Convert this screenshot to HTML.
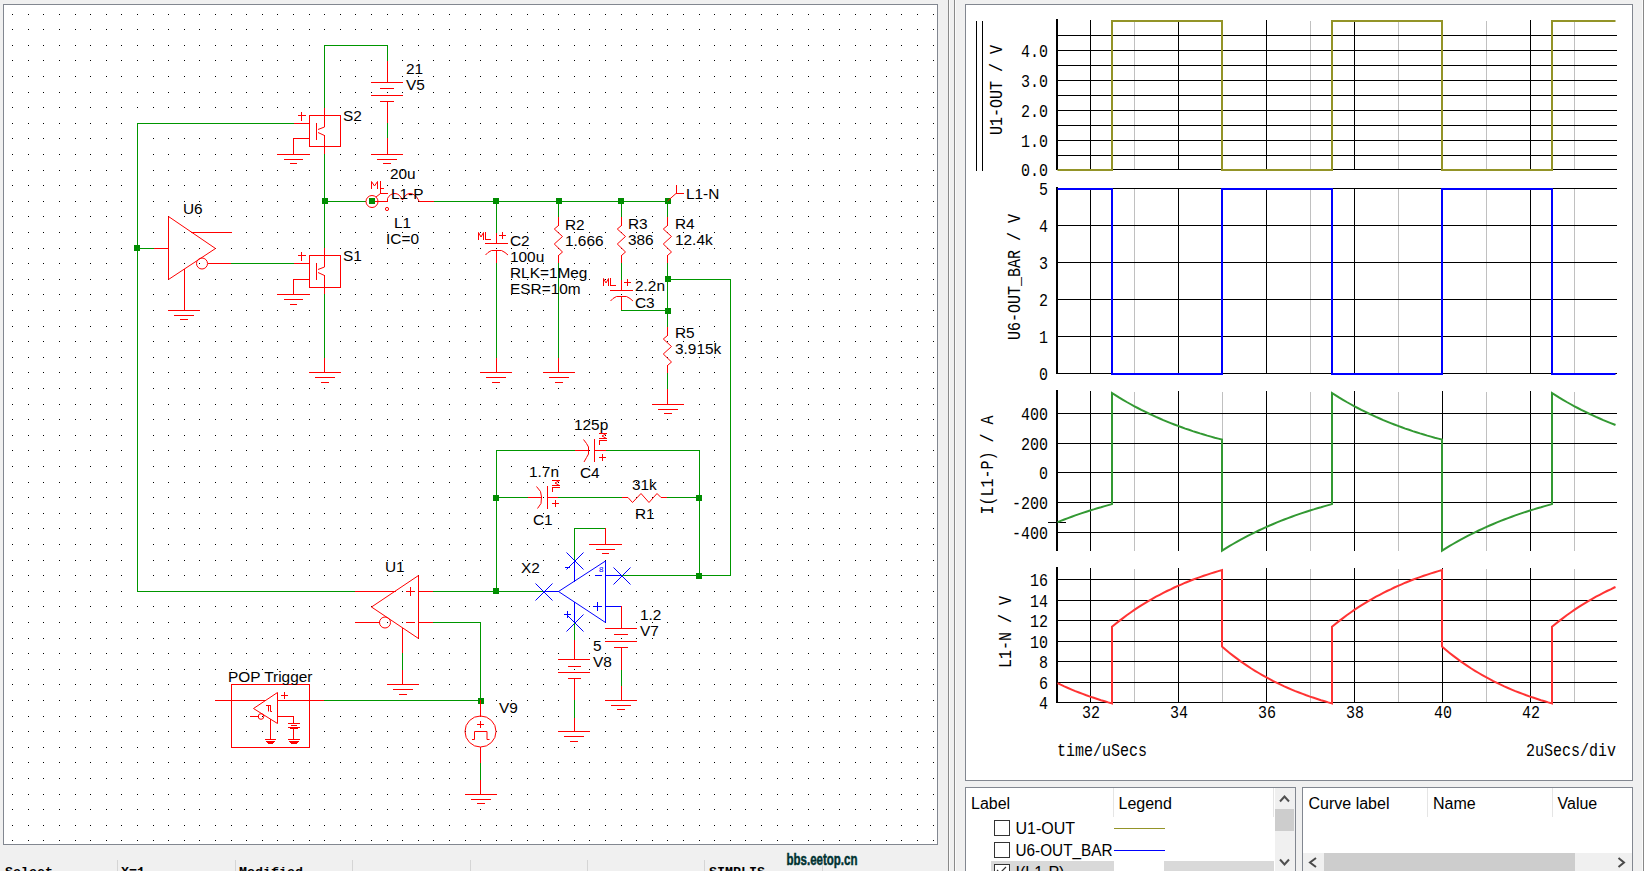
<!DOCTYPE html><html><head><meta charset="utf-8"><style>
html,body{margin:0;padding:0;background:#f0f0f0;width:1644px;height:871px;overflow:hidden}
svg{display:block}
text{white-space:pre}
</style></head><body>
<svg width="1644" height="871" viewBox="0 0 1644 871">
<rect x="0" y="0" width="1644" height="871" fill="#f0f0f0"/>
<rect x="3" y="4" width="935" height="841" fill="#828790"/>
<rect x="4" y="5" width="933" height="839" fill="#ffffff"/>
<path fill="#000" d="M12 14h1v1h-1zM12 29h1v1h-1zM12 45h1v1h-1zM12 60h1v1h-1zM12 76h1v1h-1zM12 92h1v1h-1zM12 107h1v1h-1zM12 123h1v1h-1zM12 138h1v1h-1zM12 154h1v1h-1zM12 170h1v1h-1zM12 185h1v1h-1zM12 201h1v1h-1zM12 216h1v1h-1zM12 232h1v1h-1zM12 248h1v1h-1zM12 263h1v1h-1zM12 279h1v1h-1zM12 294h1v1h-1zM12 310h1v1h-1zM12 326h1v1h-1zM12 341h1v1h-1zM12 357h1v1h-1zM12 372h1v1h-1zM12 388h1v1h-1zM12 404h1v1h-1zM12 419h1v1h-1zM12 435h1v1h-1zM12 450h1v1h-1zM12 466h1v1h-1zM12 482h1v1h-1zM12 497h1v1h-1zM12 513h1v1h-1zM12 528h1v1h-1zM12 544h1v1h-1zM12 560h1v1h-1zM12 575h1v1h-1zM12 591h1v1h-1zM12 606h1v1h-1zM12 622h1v1h-1zM12 638h1v1h-1zM12 653h1v1h-1zM12 669h1v1h-1zM12 684h1v1h-1zM12 700h1v1h-1zM12 716h1v1h-1zM12 731h1v1h-1zM12 747h1v1h-1zM12 762h1v1h-1zM12 778h1v1h-1zM12 794h1v1h-1zM12 809h1v1h-1zM12 825h1v1h-1zM12 840h1v1h-1zM28 14h1v1h-1zM28 29h1v1h-1zM28 45h1v1h-1zM28 60h1v1h-1zM28 76h1v1h-1zM28 92h1v1h-1zM28 107h1v1h-1zM28 123h1v1h-1zM28 138h1v1h-1zM28 154h1v1h-1zM28 170h1v1h-1zM28 185h1v1h-1zM28 201h1v1h-1zM28 216h1v1h-1zM28 232h1v1h-1zM28 248h1v1h-1zM28 263h1v1h-1zM28 279h1v1h-1zM28 294h1v1h-1zM28 310h1v1h-1zM28 326h1v1h-1zM28 341h1v1h-1zM28 357h1v1h-1zM28 372h1v1h-1zM28 388h1v1h-1zM28 404h1v1h-1zM28 419h1v1h-1zM28 435h1v1h-1zM28 450h1v1h-1zM28 466h1v1h-1zM28 482h1v1h-1zM28 497h1v1h-1zM28 513h1v1h-1zM28 528h1v1h-1zM28 544h1v1h-1zM28 560h1v1h-1zM28 575h1v1h-1zM28 591h1v1h-1zM28 606h1v1h-1zM28 622h1v1h-1zM28 638h1v1h-1zM28 653h1v1h-1zM28 669h1v1h-1zM28 684h1v1h-1zM28 700h1v1h-1zM28 716h1v1h-1zM28 731h1v1h-1zM28 747h1v1h-1zM28 762h1v1h-1zM28 778h1v1h-1zM28 794h1v1h-1zM28 809h1v1h-1zM28 825h1v1h-1zM28 840h1v1h-1zM43 14h1v1h-1zM43 29h1v1h-1zM43 45h1v1h-1zM43 60h1v1h-1zM43 76h1v1h-1zM43 92h1v1h-1zM43 107h1v1h-1zM43 123h1v1h-1zM43 138h1v1h-1zM43 154h1v1h-1zM43 170h1v1h-1zM43 185h1v1h-1zM43 201h1v1h-1zM43 216h1v1h-1zM43 232h1v1h-1zM43 248h1v1h-1zM43 263h1v1h-1zM43 279h1v1h-1zM43 294h1v1h-1zM43 310h1v1h-1zM43 326h1v1h-1zM43 341h1v1h-1zM43 357h1v1h-1zM43 372h1v1h-1zM43 388h1v1h-1zM43 404h1v1h-1zM43 419h1v1h-1zM43 435h1v1h-1zM43 450h1v1h-1zM43 466h1v1h-1zM43 482h1v1h-1zM43 497h1v1h-1zM43 513h1v1h-1zM43 528h1v1h-1zM43 544h1v1h-1zM43 560h1v1h-1zM43 575h1v1h-1zM43 591h1v1h-1zM43 606h1v1h-1zM43 622h1v1h-1zM43 638h1v1h-1zM43 653h1v1h-1zM43 669h1v1h-1zM43 684h1v1h-1zM43 700h1v1h-1zM43 716h1v1h-1zM43 731h1v1h-1zM43 747h1v1h-1zM43 762h1v1h-1zM43 778h1v1h-1zM43 794h1v1h-1zM43 809h1v1h-1zM43 825h1v1h-1zM43 840h1v1h-1zM59 14h1v1h-1zM59 29h1v1h-1zM59 45h1v1h-1zM59 60h1v1h-1zM59 76h1v1h-1zM59 92h1v1h-1zM59 107h1v1h-1zM59 123h1v1h-1zM59 138h1v1h-1zM59 154h1v1h-1zM59 170h1v1h-1zM59 185h1v1h-1zM59 201h1v1h-1zM59 216h1v1h-1zM59 232h1v1h-1zM59 248h1v1h-1zM59 263h1v1h-1zM59 279h1v1h-1zM59 294h1v1h-1zM59 310h1v1h-1zM59 326h1v1h-1zM59 341h1v1h-1zM59 357h1v1h-1zM59 372h1v1h-1zM59 388h1v1h-1zM59 404h1v1h-1zM59 419h1v1h-1zM59 435h1v1h-1zM59 450h1v1h-1zM59 466h1v1h-1zM59 482h1v1h-1zM59 497h1v1h-1zM59 513h1v1h-1zM59 528h1v1h-1zM59 544h1v1h-1zM59 560h1v1h-1zM59 575h1v1h-1zM59 591h1v1h-1zM59 606h1v1h-1zM59 622h1v1h-1zM59 638h1v1h-1zM59 653h1v1h-1zM59 669h1v1h-1zM59 684h1v1h-1zM59 700h1v1h-1zM59 716h1v1h-1zM59 731h1v1h-1zM59 747h1v1h-1zM59 762h1v1h-1zM59 778h1v1h-1zM59 794h1v1h-1zM59 809h1v1h-1zM59 825h1v1h-1zM59 840h1v1h-1zM75 14h1v1h-1zM75 29h1v1h-1zM75 45h1v1h-1zM75 60h1v1h-1zM75 76h1v1h-1zM75 92h1v1h-1zM75 107h1v1h-1zM75 123h1v1h-1zM75 138h1v1h-1zM75 154h1v1h-1zM75 170h1v1h-1zM75 185h1v1h-1zM75 201h1v1h-1zM75 216h1v1h-1zM75 232h1v1h-1zM75 248h1v1h-1zM75 263h1v1h-1zM75 279h1v1h-1zM75 294h1v1h-1zM75 310h1v1h-1zM75 326h1v1h-1zM75 341h1v1h-1zM75 357h1v1h-1zM75 372h1v1h-1zM75 388h1v1h-1zM75 404h1v1h-1zM75 419h1v1h-1zM75 435h1v1h-1zM75 450h1v1h-1zM75 466h1v1h-1zM75 482h1v1h-1zM75 497h1v1h-1zM75 513h1v1h-1zM75 528h1v1h-1zM75 544h1v1h-1zM75 560h1v1h-1zM75 575h1v1h-1zM75 591h1v1h-1zM75 606h1v1h-1zM75 622h1v1h-1zM75 638h1v1h-1zM75 653h1v1h-1zM75 669h1v1h-1zM75 684h1v1h-1zM75 700h1v1h-1zM75 716h1v1h-1zM75 731h1v1h-1zM75 747h1v1h-1zM75 762h1v1h-1zM75 778h1v1h-1zM75 794h1v1h-1zM75 809h1v1h-1zM75 825h1v1h-1zM75 840h1v1h-1zM90 14h1v1h-1zM90 29h1v1h-1zM90 45h1v1h-1zM90 60h1v1h-1zM90 76h1v1h-1zM90 92h1v1h-1zM90 107h1v1h-1zM90 123h1v1h-1zM90 138h1v1h-1zM90 154h1v1h-1zM90 170h1v1h-1zM90 185h1v1h-1zM90 201h1v1h-1zM90 216h1v1h-1zM90 232h1v1h-1zM90 248h1v1h-1zM90 263h1v1h-1zM90 279h1v1h-1zM90 294h1v1h-1zM90 310h1v1h-1zM90 326h1v1h-1zM90 341h1v1h-1zM90 357h1v1h-1zM90 372h1v1h-1zM90 388h1v1h-1zM90 404h1v1h-1zM90 419h1v1h-1zM90 435h1v1h-1zM90 450h1v1h-1zM90 466h1v1h-1zM90 482h1v1h-1zM90 497h1v1h-1zM90 513h1v1h-1zM90 528h1v1h-1zM90 544h1v1h-1zM90 560h1v1h-1zM90 575h1v1h-1zM90 591h1v1h-1zM90 606h1v1h-1zM90 622h1v1h-1zM90 638h1v1h-1zM90 653h1v1h-1zM90 669h1v1h-1zM90 684h1v1h-1zM90 700h1v1h-1zM90 716h1v1h-1zM90 731h1v1h-1zM90 747h1v1h-1zM90 762h1v1h-1zM90 778h1v1h-1zM90 794h1v1h-1zM90 809h1v1h-1zM90 825h1v1h-1zM90 840h1v1h-1zM106 14h1v1h-1zM106 29h1v1h-1zM106 45h1v1h-1zM106 60h1v1h-1zM106 76h1v1h-1zM106 92h1v1h-1zM106 107h1v1h-1zM106 123h1v1h-1zM106 138h1v1h-1zM106 154h1v1h-1zM106 170h1v1h-1zM106 185h1v1h-1zM106 201h1v1h-1zM106 216h1v1h-1zM106 232h1v1h-1zM106 248h1v1h-1zM106 263h1v1h-1zM106 279h1v1h-1zM106 294h1v1h-1zM106 310h1v1h-1zM106 326h1v1h-1zM106 341h1v1h-1zM106 357h1v1h-1zM106 372h1v1h-1zM106 388h1v1h-1zM106 404h1v1h-1zM106 419h1v1h-1zM106 435h1v1h-1zM106 450h1v1h-1zM106 466h1v1h-1zM106 482h1v1h-1zM106 497h1v1h-1zM106 513h1v1h-1zM106 528h1v1h-1zM106 544h1v1h-1zM106 560h1v1h-1zM106 575h1v1h-1zM106 591h1v1h-1zM106 606h1v1h-1zM106 622h1v1h-1zM106 638h1v1h-1zM106 653h1v1h-1zM106 669h1v1h-1zM106 684h1v1h-1zM106 700h1v1h-1zM106 716h1v1h-1zM106 731h1v1h-1zM106 747h1v1h-1zM106 762h1v1h-1zM106 778h1v1h-1zM106 794h1v1h-1zM106 809h1v1h-1zM106 825h1v1h-1zM106 840h1v1h-1zM121 14h1v1h-1zM121 29h1v1h-1zM121 45h1v1h-1zM121 60h1v1h-1zM121 76h1v1h-1zM121 92h1v1h-1zM121 107h1v1h-1zM121 123h1v1h-1zM121 138h1v1h-1zM121 154h1v1h-1zM121 170h1v1h-1zM121 185h1v1h-1zM121 201h1v1h-1zM121 216h1v1h-1zM121 232h1v1h-1zM121 248h1v1h-1zM121 263h1v1h-1zM121 279h1v1h-1zM121 294h1v1h-1zM121 310h1v1h-1zM121 326h1v1h-1zM121 341h1v1h-1zM121 357h1v1h-1zM121 372h1v1h-1zM121 388h1v1h-1zM121 404h1v1h-1zM121 419h1v1h-1zM121 435h1v1h-1zM121 450h1v1h-1zM121 466h1v1h-1zM121 482h1v1h-1zM121 497h1v1h-1zM121 513h1v1h-1zM121 528h1v1h-1zM121 544h1v1h-1zM121 560h1v1h-1zM121 575h1v1h-1zM121 591h1v1h-1zM121 606h1v1h-1zM121 622h1v1h-1zM121 638h1v1h-1zM121 653h1v1h-1zM121 669h1v1h-1zM121 684h1v1h-1zM121 700h1v1h-1zM121 716h1v1h-1zM121 731h1v1h-1zM121 747h1v1h-1zM121 762h1v1h-1zM121 778h1v1h-1zM121 794h1v1h-1zM121 809h1v1h-1zM121 825h1v1h-1zM121 840h1v1h-1zM137 14h1v1h-1zM137 29h1v1h-1zM137 45h1v1h-1zM137 60h1v1h-1zM137 76h1v1h-1zM137 92h1v1h-1zM137 107h1v1h-1zM137 123h1v1h-1zM137 138h1v1h-1zM137 154h1v1h-1zM137 170h1v1h-1zM137 185h1v1h-1zM137 201h1v1h-1zM137 216h1v1h-1zM137 232h1v1h-1zM137 248h1v1h-1zM137 263h1v1h-1zM137 279h1v1h-1zM137 294h1v1h-1zM137 310h1v1h-1zM137 326h1v1h-1zM137 341h1v1h-1zM137 357h1v1h-1zM137 372h1v1h-1zM137 388h1v1h-1zM137 404h1v1h-1zM137 419h1v1h-1zM137 435h1v1h-1zM137 450h1v1h-1zM137 466h1v1h-1zM137 482h1v1h-1zM137 497h1v1h-1zM137 513h1v1h-1zM137 528h1v1h-1zM137 544h1v1h-1zM137 560h1v1h-1zM137 575h1v1h-1zM137 591h1v1h-1zM137 606h1v1h-1zM137 622h1v1h-1zM137 638h1v1h-1zM137 653h1v1h-1zM137 669h1v1h-1zM137 684h1v1h-1zM137 700h1v1h-1zM137 716h1v1h-1zM137 731h1v1h-1zM137 747h1v1h-1zM137 762h1v1h-1zM137 778h1v1h-1zM137 794h1v1h-1zM137 809h1v1h-1zM137 825h1v1h-1zM137 840h1v1h-1zM153 14h1v1h-1zM153 29h1v1h-1zM153 45h1v1h-1zM153 60h1v1h-1zM153 76h1v1h-1zM153 92h1v1h-1zM153 107h1v1h-1zM153 123h1v1h-1zM153 138h1v1h-1zM153 154h1v1h-1zM153 170h1v1h-1zM153 185h1v1h-1zM153 201h1v1h-1zM153 216h1v1h-1zM153 232h1v1h-1zM153 248h1v1h-1zM153 263h1v1h-1zM153 279h1v1h-1zM153 294h1v1h-1zM153 310h1v1h-1zM153 326h1v1h-1zM153 341h1v1h-1zM153 357h1v1h-1zM153 372h1v1h-1zM153 388h1v1h-1zM153 404h1v1h-1zM153 419h1v1h-1zM153 435h1v1h-1zM153 450h1v1h-1zM153 466h1v1h-1zM153 482h1v1h-1zM153 497h1v1h-1zM153 513h1v1h-1zM153 528h1v1h-1zM153 544h1v1h-1zM153 560h1v1h-1zM153 575h1v1h-1zM153 591h1v1h-1zM153 606h1v1h-1zM153 622h1v1h-1zM153 638h1v1h-1zM153 653h1v1h-1zM153 669h1v1h-1zM153 684h1v1h-1zM153 700h1v1h-1zM153 716h1v1h-1zM153 731h1v1h-1zM153 747h1v1h-1zM153 762h1v1h-1zM153 778h1v1h-1zM153 794h1v1h-1zM153 809h1v1h-1zM153 825h1v1h-1zM153 840h1v1h-1zM168 14h1v1h-1zM168 29h1v1h-1zM168 45h1v1h-1zM168 60h1v1h-1zM168 76h1v1h-1zM168 92h1v1h-1zM168 107h1v1h-1zM168 123h1v1h-1zM168 138h1v1h-1zM168 154h1v1h-1zM168 170h1v1h-1zM168 185h1v1h-1zM168 201h1v1h-1zM168 216h1v1h-1zM168 232h1v1h-1zM168 248h1v1h-1zM168 263h1v1h-1zM168 279h1v1h-1zM168 294h1v1h-1zM168 310h1v1h-1zM168 326h1v1h-1zM168 341h1v1h-1zM168 357h1v1h-1zM168 372h1v1h-1zM168 388h1v1h-1zM168 404h1v1h-1zM168 419h1v1h-1zM168 435h1v1h-1zM168 450h1v1h-1zM168 466h1v1h-1zM168 482h1v1h-1zM168 497h1v1h-1zM168 513h1v1h-1zM168 528h1v1h-1zM168 544h1v1h-1zM168 560h1v1h-1zM168 575h1v1h-1zM168 591h1v1h-1zM168 606h1v1h-1zM168 622h1v1h-1zM168 638h1v1h-1zM168 653h1v1h-1zM168 669h1v1h-1zM168 684h1v1h-1zM168 700h1v1h-1zM168 716h1v1h-1zM168 731h1v1h-1zM168 747h1v1h-1zM168 762h1v1h-1zM168 778h1v1h-1zM168 794h1v1h-1zM168 809h1v1h-1zM168 825h1v1h-1zM168 840h1v1h-1zM184 14h1v1h-1zM184 29h1v1h-1zM184 45h1v1h-1zM184 60h1v1h-1zM184 76h1v1h-1zM184 92h1v1h-1zM184 107h1v1h-1zM184 123h1v1h-1zM184 138h1v1h-1zM184 154h1v1h-1zM184 170h1v1h-1zM184 185h1v1h-1zM184 201h1v1h-1zM184 216h1v1h-1zM184 232h1v1h-1zM184 248h1v1h-1zM184 263h1v1h-1zM184 279h1v1h-1zM184 294h1v1h-1zM184 310h1v1h-1zM184 326h1v1h-1zM184 341h1v1h-1zM184 357h1v1h-1zM184 372h1v1h-1zM184 388h1v1h-1zM184 404h1v1h-1zM184 419h1v1h-1zM184 435h1v1h-1zM184 450h1v1h-1zM184 466h1v1h-1zM184 482h1v1h-1zM184 497h1v1h-1zM184 513h1v1h-1zM184 528h1v1h-1zM184 544h1v1h-1zM184 560h1v1h-1zM184 575h1v1h-1zM184 591h1v1h-1zM184 606h1v1h-1zM184 622h1v1h-1zM184 638h1v1h-1zM184 653h1v1h-1zM184 669h1v1h-1zM184 684h1v1h-1zM184 700h1v1h-1zM184 716h1v1h-1zM184 731h1v1h-1zM184 747h1v1h-1zM184 762h1v1h-1zM184 778h1v1h-1zM184 794h1v1h-1zM184 809h1v1h-1zM184 825h1v1h-1zM184 840h1v1h-1zM199 14h1v1h-1zM199 29h1v1h-1zM199 45h1v1h-1zM199 60h1v1h-1zM199 76h1v1h-1zM199 92h1v1h-1zM199 107h1v1h-1zM199 123h1v1h-1zM199 138h1v1h-1zM199 154h1v1h-1zM199 170h1v1h-1zM199 185h1v1h-1zM199 201h1v1h-1zM199 216h1v1h-1zM199 232h1v1h-1zM199 248h1v1h-1zM199 263h1v1h-1zM199 279h1v1h-1zM199 294h1v1h-1zM199 310h1v1h-1zM199 326h1v1h-1zM199 341h1v1h-1zM199 357h1v1h-1zM199 372h1v1h-1zM199 388h1v1h-1zM199 404h1v1h-1zM199 419h1v1h-1zM199 435h1v1h-1zM199 450h1v1h-1zM199 466h1v1h-1zM199 482h1v1h-1zM199 497h1v1h-1zM199 513h1v1h-1zM199 528h1v1h-1zM199 544h1v1h-1zM199 560h1v1h-1zM199 575h1v1h-1zM199 591h1v1h-1zM199 606h1v1h-1zM199 622h1v1h-1zM199 638h1v1h-1zM199 653h1v1h-1zM199 669h1v1h-1zM199 684h1v1h-1zM199 700h1v1h-1zM199 716h1v1h-1zM199 731h1v1h-1zM199 747h1v1h-1zM199 762h1v1h-1zM199 778h1v1h-1zM199 794h1v1h-1zM199 809h1v1h-1zM199 825h1v1h-1zM199 840h1v1h-1zM215 14h1v1h-1zM215 29h1v1h-1zM215 45h1v1h-1zM215 60h1v1h-1zM215 76h1v1h-1zM215 92h1v1h-1zM215 107h1v1h-1zM215 123h1v1h-1zM215 138h1v1h-1zM215 154h1v1h-1zM215 170h1v1h-1zM215 185h1v1h-1zM215 201h1v1h-1zM215 216h1v1h-1zM215 232h1v1h-1zM215 248h1v1h-1zM215 263h1v1h-1zM215 279h1v1h-1zM215 294h1v1h-1zM215 310h1v1h-1zM215 326h1v1h-1zM215 341h1v1h-1zM215 357h1v1h-1zM215 372h1v1h-1zM215 388h1v1h-1zM215 404h1v1h-1zM215 419h1v1h-1zM215 435h1v1h-1zM215 450h1v1h-1zM215 466h1v1h-1zM215 482h1v1h-1zM215 497h1v1h-1zM215 513h1v1h-1zM215 528h1v1h-1zM215 544h1v1h-1zM215 560h1v1h-1zM215 575h1v1h-1zM215 591h1v1h-1zM215 606h1v1h-1zM215 622h1v1h-1zM215 638h1v1h-1zM215 653h1v1h-1zM215 669h1v1h-1zM215 684h1v1h-1zM215 700h1v1h-1zM215 716h1v1h-1zM215 731h1v1h-1zM215 747h1v1h-1zM215 762h1v1h-1zM215 778h1v1h-1zM215 794h1v1h-1zM215 809h1v1h-1zM215 825h1v1h-1zM215 840h1v1h-1zM231 14h1v1h-1zM231 29h1v1h-1zM231 45h1v1h-1zM231 60h1v1h-1zM231 76h1v1h-1zM231 92h1v1h-1zM231 107h1v1h-1zM231 123h1v1h-1zM231 138h1v1h-1zM231 154h1v1h-1zM231 170h1v1h-1zM231 185h1v1h-1zM231 201h1v1h-1zM231 216h1v1h-1zM231 232h1v1h-1zM231 248h1v1h-1zM231 263h1v1h-1zM231 279h1v1h-1zM231 294h1v1h-1zM231 310h1v1h-1zM231 326h1v1h-1zM231 341h1v1h-1zM231 357h1v1h-1zM231 372h1v1h-1zM231 388h1v1h-1zM231 404h1v1h-1zM231 419h1v1h-1zM231 435h1v1h-1zM231 450h1v1h-1zM231 466h1v1h-1zM231 482h1v1h-1zM231 497h1v1h-1zM231 513h1v1h-1zM231 528h1v1h-1zM231 544h1v1h-1zM231 560h1v1h-1zM231 575h1v1h-1zM231 591h1v1h-1zM231 606h1v1h-1zM231 622h1v1h-1zM231 638h1v1h-1zM231 653h1v1h-1zM231 669h1v1h-1zM231 684h1v1h-1zM231 700h1v1h-1zM231 716h1v1h-1zM231 731h1v1h-1zM231 747h1v1h-1zM231 762h1v1h-1zM231 778h1v1h-1zM231 794h1v1h-1zM231 809h1v1h-1zM231 825h1v1h-1zM231 840h1v1h-1zM246 14h1v1h-1zM246 29h1v1h-1zM246 45h1v1h-1zM246 60h1v1h-1zM246 76h1v1h-1zM246 92h1v1h-1zM246 107h1v1h-1zM246 123h1v1h-1zM246 138h1v1h-1zM246 154h1v1h-1zM246 170h1v1h-1zM246 185h1v1h-1zM246 201h1v1h-1zM246 216h1v1h-1zM246 232h1v1h-1zM246 248h1v1h-1zM246 263h1v1h-1zM246 279h1v1h-1zM246 294h1v1h-1zM246 310h1v1h-1zM246 326h1v1h-1zM246 341h1v1h-1zM246 357h1v1h-1zM246 372h1v1h-1zM246 388h1v1h-1zM246 404h1v1h-1zM246 419h1v1h-1zM246 435h1v1h-1zM246 450h1v1h-1zM246 466h1v1h-1zM246 482h1v1h-1zM246 497h1v1h-1zM246 513h1v1h-1zM246 528h1v1h-1zM246 544h1v1h-1zM246 560h1v1h-1zM246 575h1v1h-1zM246 591h1v1h-1zM246 606h1v1h-1zM246 622h1v1h-1zM246 638h1v1h-1zM246 653h1v1h-1zM246 669h1v1h-1zM246 684h1v1h-1zM246 700h1v1h-1zM246 716h1v1h-1zM246 731h1v1h-1zM246 747h1v1h-1zM246 762h1v1h-1zM246 778h1v1h-1zM246 794h1v1h-1zM246 809h1v1h-1zM246 825h1v1h-1zM246 840h1v1h-1zM262 14h1v1h-1zM262 29h1v1h-1zM262 45h1v1h-1zM262 60h1v1h-1zM262 76h1v1h-1zM262 92h1v1h-1zM262 107h1v1h-1zM262 123h1v1h-1zM262 138h1v1h-1zM262 154h1v1h-1zM262 170h1v1h-1zM262 185h1v1h-1zM262 201h1v1h-1zM262 216h1v1h-1zM262 232h1v1h-1zM262 248h1v1h-1zM262 263h1v1h-1zM262 279h1v1h-1zM262 294h1v1h-1zM262 310h1v1h-1zM262 326h1v1h-1zM262 341h1v1h-1zM262 357h1v1h-1zM262 372h1v1h-1zM262 388h1v1h-1zM262 404h1v1h-1zM262 419h1v1h-1zM262 435h1v1h-1zM262 450h1v1h-1zM262 466h1v1h-1zM262 482h1v1h-1zM262 497h1v1h-1zM262 513h1v1h-1zM262 528h1v1h-1zM262 544h1v1h-1zM262 560h1v1h-1zM262 575h1v1h-1zM262 591h1v1h-1zM262 606h1v1h-1zM262 622h1v1h-1zM262 638h1v1h-1zM262 653h1v1h-1zM262 669h1v1h-1zM262 684h1v1h-1zM262 700h1v1h-1zM262 716h1v1h-1zM262 731h1v1h-1zM262 747h1v1h-1zM262 762h1v1h-1zM262 778h1v1h-1zM262 794h1v1h-1zM262 809h1v1h-1zM262 825h1v1h-1zM262 840h1v1h-1zM277 14h1v1h-1zM277 29h1v1h-1zM277 45h1v1h-1zM277 60h1v1h-1zM277 76h1v1h-1zM277 92h1v1h-1zM277 107h1v1h-1zM277 123h1v1h-1zM277 138h1v1h-1zM277 154h1v1h-1zM277 170h1v1h-1zM277 185h1v1h-1zM277 201h1v1h-1zM277 216h1v1h-1zM277 232h1v1h-1zM277 248h1v1h-1zM277 263h1v1h-1zM277 279h1v1h-1zM277 294h1v1h-1zM277 310h1v1h-1zM277 326h1v1h-1zM277 341h1v1h-1zM277 357h1v1h-1zM277 372h1v1h-1zM277 388h1v1h-1zM277 404h1v1h-1zM277 419h1v1h-1zM277 435h1v1h-1zM277 450h1v1h-1zM277 466h1v1h-1zM277 482h1v1h-1zM277 497h1v1h-1zM277 513h1v1h-1zM277 528h1v1h-1zM277 544h1v1h-1zM277 560h1v1h-1zM277 575h1v1h-1zM277 591h1v1h-1zM277 606h1v1h-1zM277 622h1v1h-1zM277 638h1v1h-1zM277 653h1v1h-1zM277 669h1v1h-1zM277 684h1v1h-1zM277 700h1v1h-1zM277 716h1v1h-1zM277 731h1v1h-1zM277 747h1v1h-1zM277 762h1v1h-1zM277 778h1v1h-1zM277 794h1v1h-1zM277 809h1v1h-1zM277 825h1v1h-1zM277 840h1v1h-1zM293 14h1v1h-1zM293 29h1v1h-1zM293 45h1v1h-1zM293 60h1v1h-1zM293 76h1v1h-1zM293 92h1v1h-1zM293 107h1v1h-1zM293 123h1v1h-1zM293 138h1v1h-1zM293 154h1v1h-1zM293 170h1v1h-1zM293 185h1v1h-1zM293 201h1v1h-1zM293 216h1v1h-1zM293 232h1v1h-1zM293 248h1v1h-1zM293 263h1v1h-1zM293 279h1v1h-1zM293 294h1v1h-1zM293 310h1v1h-1zM293 326h1v1h-1zM293 341h1v1h-1zM293 357h1v1h-1zM293 372h1v1h-1zM293 388h1v1h-1zM293 404h1v1h-1zM293 419h1v1h-1zM293 435h1v1h-1zM293 450h1v1h-1zM293 466h1v1h-1zM293 482h1v1h-1zM293 497h1v1h-1zM293 513h1v1h-1zM293 528h1v1h-1zM293 544h1v1h-1zM293 560h1v1h-1zM293 575h1v1h-1zM293 591h1v1h-1zM293 606h1v1h-1zM293 622h1v1h-1zM293 638h1v1h-1zM293 653h1v1h-1zM293 669h1v1h-1zM293 684h1v1h-1zM293 700h1v1h-1zM293 716h1v1h-1zM293 731h1v1h-1zM293 747h1v1h-1zM293 762h1v1h-1zM293 778h1v1h-1zM293 794h1v1h-1zM293 809h1v1h-1zM293 825h1v1h-1zM293 840h1v1h-1zM309 14h1v1h-1zM309 29h1v1h-1zM309 45h1v1h-1zM309 60h1v1h-1zM309 76h1v1h-1zM309 92h1v1h-1zM309 107h1v1h-1zM309 123h1v1h-1zM309 138h1v1h-1zM309 154h1v1h-1zM309 170h1v1h-1zM309 185h1v1h-1zM309 201h1v1h-1zM309 216h1v1h-1zM309 232h1v1h-1zM309 248h1v1h-1zM309 263h1v1h-1zM309 279h1v1h-1zM309 294h1v1h-1zM309 310h1v1h-1zM309 326h1v1h-1zM309 341h1v1h-1zM309 357h1v1h-1zM309 372h1v1h-1zM309 388h1v1h-1zM309 404h1v1h-1zM309 419h1v1h-1zM309 435h1v1h-1zM309 450h1v1h-1zM309 466h1v1h-1zM309 482h1v1h-1zM309 497h1v1h-1zM309 513h1v1h-1zM309 528h1v1h-1zM309 544h1v1h-1zM309 560h1v1h-1zM309 575h1v1h-1zM309 591h1v1h-1zM309 606h1v1h-1zM309 622h1v1h-1zM309 638h1v1h-1zM309 653h1v1h-1zM309 669h1v1h-1zM309 684h1v1h-1zM309 700h1v1h-1zM309 716h1v1h-1zM309 731h1v1h-1zM309 747h1v1h-1zM309 762h1v1h-1zM309 778h1v1h-1zM309 794h1v1h-1zM309 809h1v1h-1zM309 825h1v1h-1zM309 840h1v1h-1zM324 14h1v1h-1zM324 29h1v1h-1zM324 45h1v1h-1zM324 60h1v1h-1zM324 76h1v1h-1zM324 92h1v1h-1zM324 107h1v1h-1zM324 123h1v1h-1zM324 138h1v1h-1zM324 154h1v1h-1zM324 170h1v1h-1zM324 185h1v1h-1zM324 201h1v1h-1zM324 216h1v1h-1zM324 232h1v1h-1zM324 248h1v1h-1zM324 263h1v1h-1zM324 279h1v1h-1zM324 294h1v1h-1zM324 310h1v1h-1zM324 326h1v1h-1zM324 341h1v1h-1zM324 357h1v1h-1zM324 372h1v1h-1zM324 388h1v1h-1zM324 404h1v1h-1zM324 419h1v1h-1zM324 435h1v1h-1zM324 450h1v1h-1zM324 466h1v1h-1zM324 482h1v1h-1zM324 497h1v1h-1zM324 513h1v1h-1zM324 528h1v1h-1zM324 544h1v1h-1zM324 560h1v1h-1zM324 575h1v1h-1zM324 591h1v1h-1zM324 606h1v1h-1zM324 622h1v1h-1zM324 638h1v1h-1zM324 653h1v1h-1zM324 669h1v1h-1zM324 684h1v1h-1zM324 700h1v1h-1zM324 716h1v1h-1zM324 731h1v1h-1zM324 747h1v1h-1zM324 762h1v1h-1zM324 778h1v1h-1zM324 794h1v1h-1zM324 809h1v1h-1zM324 825h1v1h-1zM324 840h1v1h-1zM340 14h1v1h-1zM340 29h1v1h-1zM340 45h1v1h-1zM340 60h1v1h-1zM340 76h1v1h-1zM340 92h1v1h-1zM340 107h1v1h-1zM340 123h1v1h-1zM340 138h1v1h-1zM340 154h1v1h-1zM340 170h1v1h-1zM340 185h1v1h-1zM340 201h1v1h-1zM340 216h1v1h-1zM340 232h1v1h-1zM340 248h1v1h-1zM340 263h1v1h-1zM340 279h1v1h-1zM340 294h1v1h-1zM340 310h1v1h-1zM340 326h1v1h-1zM340 341h1v1h-1zM340 357h1v1h-1zM340 372h1v1h-1zM340 388h1v1h-1zM340 404h1v1h-1zM340 419h1v1h-1zM340 435h1v1h-1zM340 450h1v1h-1zM340 466h1v1h-1zM340 482h1v1h-1zM340 497h1v1h-1zM340 513h1v1h-1zM340 528h1v1h-1zM340 544h1v1h-1zM340 560h1v1h-1zM340 575h1v1h-1zM340 591h1v1h-1zM340 606h1v1h-1zM340 622h1v1h-1zM340 638h1v1h-1zM340 653h1v1h-1zM340 669h1v1h-1zM340 684h1v1h-1zM340 700h1v1h-1zM340 716h1v1h-1zM340 731h1v1h-1zM340 747h1v1h-1zM340 762h1v1h-1zM340 778h1v1h-1zM340 794h1v1h-1zM340 809h1v1h-1zM340 825h1v1h-1zM340 840h1v1h-1zM355 14h1v1h-1zM355 29h1v1h-1zM355 45h1v1h-1zM355 60h1v1h-1zM355 76h1v1h-1zM355 92h1v1h-1zM355 107h1v1h-1zM355 123h1v1h-1zM355 138h1v1h-1zM355 154h1v1h-1zM355 170h1v1h-1zM355 185h1v1h-1zM355 201h1v1h-1zM355 216h1v1h-1zM355 232h1v1h-1zM355 248h1v1h-1zM355 263h1v1h-1zM355 279h1v1h-1zM355 294h1v1h-1zM355 310h1v1h-1zM355 326h1v1h-1zM355 341h1v1h-1zM355 357h1v1h-1zM355 372h1v1h-1zM355 388h1v1h-1zM355 404h1v1h-1zM355 419h1v1h-1zM355 435h1v1h-1zM355 450h1v1h-1zM355 466h1v1h-1zM355 482h1v1h-1zM355 497h1v1h-1zM355 513h1v1h-1zM355 528h1v1h-1zM355 544h1v1h-1zM355 560h1v1h-1zM355 575h1v1h-1zM355 591h1v1h-1zM355 606h1v1h-1zM355 622h1v1h-1zM355 638h1v1h-1zM355 653h1v1h-1zM355 669h1v1h-1zM355 684h1v1h-1zM355 700h1v1h-1zM355 716h1v1h-1zM355 731h1v1h-1zM355 747h1v1h-1zM355 762h1v1h-1zM355 778h1v1h-1zM355 794h1v1h-1zM355 809h1v1h-1zM355 825h1v1h-1zM355 840h1v1h-1zM371 14h1v1h-1zM371 29h1v1h-1zM371 45h1v1h-1zM371 60h1v1h-1zM371 76h1v1h-1zM371 92h1v1h-1zM371 107h1v1h-1zM371 123h1v1h-1zM371 138h1v1h-1zM371 154h1v1h-1zM371 170h1v1h-1zM371 185h1v1h-1zM371 201h1v1h-1zM371 216h1v1h-1zM371 232h1v1h-1zM371 248h1v1h-1zM371 263h1v1h-1zM371 279h1v1h-1zM371 294h1v1h-1zM371 310h1v1h-1zM371 326h1v1h-1zM371 341h1v1h-1zM371 357h1v1h-1zM371 372h1v1h-1zM371 388h1v1h-1zM371 404h1v1h-1zM371 419h1v1h-1zM371 435h1v1h-1zM371 450h1v1h-1zM371 466h1v1h-1zM371 482h1v1h-1zM371 497h1v1h-1zM371 513h1v1h-1zM371 528h1v1h-1zM371 544h1v1h-1zM371 560h1v1h-1zM371 575h1v1h-1zM371 591h1v1h-1zM371 606h1v1h-1zM371 622h1v1h-1zM371 638h1v1h-1zM371 653h1v1h-1zM371 669h1v1h-1zM371 684h1v1h-1zM371 700h1v1h-1zM371 716h1v1h-1zM371 731h1v1h-1zM371 747h1v1h-1zM371 762h1v1h-1zM371 778h1v1h-1zM371 794h1v1h-1zM371 809h1v1h-1zM371 825h1v1h-1zM371 840h1v1h-1zM387 14h1v1h-1zM387 29h1v1h-1zM387 45h1v1h-1zM387 60h1v1h-1zM387 76h1v1h-1zM387 92h1v1h-1zM387 107h1v1h-1zM387 123h1v1h-1zM387 138h1v1h-1zM387 154h1v1h-1zM387 170h1v1h-1zM387 185h1v1h-1zM387 201h1v1h-1zM387 216h1v1h-1zM387 232h1v1h-1zM387 248h1v1h-1zM387 263h1v1h-1zM387 279h1v1h-1zM387 294h1v1h-1zM387 310h1v1h-1zM387 326h1v1h-1zM387 341h1v1h-1zM387 357h1v1h-1zM387 372h1v1h-1zM387 388h1v1h-1zM387 404h1v1h-1zM387 419h1v1h-1zM387 435h1v1h-1zM387 450h1v1h-1zM387 466h1v1h-1zM387 482h1v1h-1zM387 497h1v1h-1zM387 513h1v1h-1zM387 528h1v1h-1zM387 544h1v1h-1zM387 560h1v1h-1zM387 575h1v1h-1zM387 591h1v1h-1zM387 606h1v1h-1zM387 622h1v1h-1zM387 638h1v1h-1zM387 653h1v1h-1zM387 669h1v1h-1zM387 684h1v1h-1zM387 700h1v1h-1zM387 716h1v1h-1zM387 731h1v1h-1zM387 747h1v1h-1zM387 762h1v1h-1zM387 778h1v1h-1zM387 794h1v1h-1zM387 809h1v1h-1zM387 825h1v1h-1zM387 840h1v1h-1zM402 14h1v1h-1zM402 29h1v1h-1zM402 45h1v1h-1zM402 60h1v1h-1zM402 76h1v1h-1zM402 92h1v1h-1zM402 107h1v1h-1zM402 123h1v1h-1zM402 138h1v1h-1zM402 154h1v1h-1zM402 170h1v1h-1zM402 185h1v1h-1zM402 201h1v1h-1zM402 216h1v1h-1zM402 232h1v1h-1zM402 248h1v1h-1zM402 263h1v1h-1zM402 279h1v1h-1zM402 294h1v1h-1zM402 310h1v1h-1zM402 326h1v1h-1zM402 341h1v1h-1zM402 357h1v1h-1zM402 372h1v1h-1zM402 388h1v1h-1zM402 404h1v1h-1zM402 419h1v1h-1zM402 435h1v1h-1zM402 450h1v1h-1zM402 466h1v1h-1zM402 482h1v1h-1zM402 497h1v1h-1zM402 513h1v1h-1zM402 528h1v1h-1zM402 544h1v1h-1zM402 560h1v1h-1zM402 575h1v1h-1zM402 591h1v1h-1zM402 606h1v1h-1zM402 622h1v1h-1zM402 638h1v1h-1zM402 653h1v1h-1zM402 669h1v1h-1zM402 684h1v1h-1zM402 700h1v1h-1zM402 716h1v1h-1zM402 731h1v1h-1zM402 747h1v1h-1zM402 762h1v1h-1zM402 778h1v1h-1zM402 794h1v1h-1zM402 809h1v1h-1zM402 825h1v1h-1zM402 840h1v1h-1zM418 14h1v1h-1zM418 29h1v1h-1zM418 45h1v1h-1zM418 60h1v1h-1zM418 76h1v1h-1zM418 92h1v1h-1zM418 107h1v1h-1zM418 123h1v1h-1zM418 138h1v1h-1zM418 154h1v1h-1zM418 170h1v1h-1zM418 185h1v1h-1zM418 201h1v1h-1zM418 216h1v1h-1zM418 232h1v1h-1zM418 248h1v1h-1zM418 263h1v1h-1zM418 279h1v1h-1zM418 294h1v1h-1zM418 310h1v1h-1zM418 326h1v1h-1zM418 341h1v1h-1zM418 357h1v1h-1zM418 372h1v1h-1zM418 388h1v1h-1zM418 404h1v1h-1zM418 419h1v1h-1zM418 435h1v1h-1zM418 450h1v1h-1zM418 466h1v1h-1zM418 482h1v1h-1zM418 497h1v1h-1zM418 513h1v1h-1zM418 528h1v1h-1zM418 544h1v1h-1zM418 560h1v1h-1zM418 575h1v1h-1zM418 591h1v1h-1zM418 606h1v1h-1zM418 622h1v1h-1zM418 638h1v1h-1zM418 653h1v1h-1zM418 669h1v1h-1zM418 684h1v1h-1zM418 700h1v1h-1zM418 716h1v1h-1zM418 731h1v1h-1zM418 747h1v1h-1zM418 762h1v1h-1zM418 778h1v1h-1zM418 794h1v1h-1zM418 809h1v1h-1zM418 825h1v1h-1zM418 840h1v1h-1zM433 14h1v1h-1zM433 29h1v1h-1zM433 45h1v1h-1zM433 60h1v1h-1zM433 76h1v1h-1zM433 92h1v1h-1zM433 107h1v1h-1zM433 123h1v1h-1zM433 138h1v1h-1zM433 154h1v1h-1zM433 170h1v1h-1zM433 185h1v1h-1zM433 201h1v1h-1zM433 216h1v1h-1zM433 232h1v1h-1zM433 248h1v1h-1zM433 263h1v1h-1zM433 279h1v1h-1zM433 294h1v1h-1zM433 310h1v1h-1zM433 326h1v1h-1zM433 341h1v1h-1zM433 357h1v1h-1zM433 372h1v1h-1zM433 388h1v1h-1zM433 404h1v1h-1zM433 419h1v1h-1zM433 435h1v1h-1zM433 450h1v1h-1zM433 466h1v1h-1zM433 482h1v1h-1zM433 497h1v1h-1zM433 513h1v1h-1zM433 528h1v1h-1zM433 544h1v1h-1zM433 560h1v1h-1zM433 575h1v1h-1zM433 591h1v1h-1zM433 606h1v1h-1zM433 622h1v1h-1zM433 638h1v1h-1zM433 653h1v1h-1zM433 669h1v1h-1zM433 684h1v1h-1zM433 700h1v1h-1zM433 716h1v1h-1zM433 731h1v1h-1zM433 747h1v1h-1zM433 762h1v1h-1zM433 778h1v1h-1zM433 794h1v1h-1zM433 809h1v1h-1zM433 825h1v1h-1zM433 840h1v1h-1zM449 14h1v1h-1zM449 29h1v1h-1zM449 45h1v1h-1zM449 60h1v1h-1zM449 76h1v1h-1zM449 92h1v1h-1zM449 107h1v1h-1zM449 123h1v1h-1zM449 138h1v1h-1zM449 154h1v1h-1zM449 170h1v1h-1zM449 185h1v1h-1zM449 201h1v1h-1zM449 216h1v1h-1zM449 232h1v1h-1zM449 248h1v1h-1zM449 263h1v1h-1zM449 279h1v1h-1zM449 294h1v1h-1zM449 310h1v1h-1zM449 326h1v1h-1zM449 341h1v1h-1zM449 357h1v1h-1zM449 372h1v1h-1zM449 388h1v1h-1zM449 404h1v1h-1zM449 419h1v1h-1zM449 435h1v1h-1zM449 450h1v1h-1zM449 466h1v1h-1zM449 482h1v1h-1zM449 497h1v1h-1zM449 513h1v1h-1zM449 528h1v1h-1zM449 544h1v1h-1zM449 560h1v1h-1zM449 575h1v1h-1zM449 591h1v1h-1zM449 606h1v1h-1zM449 622h1v1h-1zM449 638h1v1h-1zM449 653h1v1h-1zM449 669h1v1h-1zM449 684h1v1h-1zM449 700h1v1h-1zM449 716h1v1h-1zM449 731h1v1h-1zM449 747h1v1h-1zM449 762h1v1h-1zM449 778h1v1h-1zM449 794h1v1h-1zM449 809h1v1h-1zM449 825h1v1h-1zM449 840h1v1h-1zM465 14h1v1h-1zM465 29h1v1h-1zM465 45h1v1h-1zM465 60h1v1h-1zM465 76h1v1h-1zM465 92h1v1h-1zM465 107h1v1h-1zM465 123h1v1h-1zM465 138h1v1h-1zM465 154h1v1h-1zM465 170h1v1h-1zM465 185h1v1h-1zM465 201h1v1h-1zM465 216h1v1h-1zM465 232h1v1h-1zM465 248h1v1h-1zM465 263h1v1h-1zM465 279h1v1h-1zM465 294h1v1h-1zM465 310h1v1h-1zM465 326h1v1h-1zM465 341h1v1h-1zM465 357h1v1h-1zM465 372h1v1h-1zM465 388h1v1h-1zM465 404h1v1h-1zM465 419h1v1h-1zM465 435h1v1h-1zM465 450h1v1h-1zM465 466h1v1h-1zM465 482h1v1h-1zM465 497h1v1h-1zM465 513h1v1h-1zM465 528h1v1h-1zM465 544h1v1h-1zM465 560h1v1h-1zM465 575h1v1h-1zM465 591h1v1h-1zM465 606h1v1h-1zM465 622h1v1h-1zM465 638h1v1h-1zM465 653h1v1h-1zM465 669h1v1h-1zM465 684h1v1h-1zM465 700h1v1h-1zM465 716h1v1h-1zM465 731h1v1h-1zM465 747h1v1h-1zM465 762h1v1h-1zM465 778h1v1h-1zM465 794h1v1h-1zM465 809h1v1h-1zM465 825h1v1h-1zM465 840h1v1h-1zM480 14h1v1h-1zM480 29h1v1h-1zM480 45h1v1h-1zM480 60h1v1h-1zM480 76h1v1h-1zM480 92h1v1h-1zM480 107h1v1h-1zM480 123h1v1h-1zM480 138h1v1h-1zM480 154h1v1h-1zM480 170h1v1h-1zM480 185h1v1h-1zM480 201h1v1h-1zM480 216h1v1h-1zM480 232h1v1h-1zM480 248h1v1h-1zM480 263h1v1h-1zM480 279h1v1h-1zM480 294h1v1h-1zM480 310h1v1h-1zM480 326h1v1h-1zM480 341h1v1h-1zM480 357h1v1h-1zM480 372h1v1h-1zM480 388h1v1h-1zM480 404h1v1h-1zM480 419h1v1h-1zM480 435h1v1h-1zM480 450h1v1h-1zM480 466h1v1h-1zM480 482h1v1h-1zM480 497h1v1h-1zM480 513h1v1h-1zM480 528h1v1h-1zM480 544h1v1h-1zM480 560h1v1h-1zM480 575h1v1h-1zM480 591h1v1h-1zM480 606h1v1h-1zM480 622h1v1h-1zM480 638h1v1h-1zM480 653h1v1h-1zM480 669h1v1h-1zM480 684h1v1h-1zM480 700h1v1h-1zM480 716h1v1h-1zM480 731h1v1h-1zM480 747h1v1h-1zM480 762h1v1h-1zM480 778h1v1h-1zM480 794h1v1h-1zM480 809h1v1h-1zM480 825h1v1h-1zM480 840h1v1h-1zM496 14h1v1h-1zM496 29h1v1h-1zM496 45h1v1h-1zM496 60h1v1h-1zM496 76h1v1h-1zM496 92h1v1h-1zM496 107h1v1h-1zM496 123h1v1h-1zM496 138h1v1h-1zM496 154h1v1h-1zM496 170h1v1h-1zM496 185h1v1h-1zM496 201h1v1h-1zM496 216h1v1h-1zM496 232h1v1h-1zM496 248h1v1h-1zM496 263h1v1h-1zM496 279h1v1h-1zM496 294h1v1h-1zM496 310h1v1h-1zM496 326h1v1h-1zM496 341h1v1h-1zM496 357h1v1h-1zM496 372h1v1h-1zM496 388h1v1h-1zM496 404h1v1h-1zM496 419h1v1h-1zM496 435h1v1h-1zM496 450h1v1h-1zM496 466h1v1h-1zM496 482h1v1h-1zM496 497h1v1h-1zM496 513h1v1h-1zM496 528h1v1h-1zM496 544h1v1h-1zM496 560h1v1h-1zM496 575h1v1h-1zM496 591h1v1h-1zM496 606h1v1h-1zM496 622h1v1h-1zM496 638h1v1h-1zM496 653h1v1h-1zM496 669h1v1h-1zM496 684h1v1h-1zM496 700h1v1h-1zM496 716h1v1h-1zM496 731h1v1h-1zM496 747h1v1h-1zM496 762h1v1h-1zM496 778h1v1h-1zM496 794h1v1h-1zM496 809h1v1h-1zM496 825h1v1h-1zM496 840h1v1h-1zM511 14h1v1h-1zM511 29h1v1h-1zM511 45h1v1h-1zM511 60h1v1h-1zM511 76h1v1h-1zM511 92h1v1h-1zM511 107h1v1h-1zM511 123h1v1h-1zM511 138h1v1h-1zM511 154h1v1h-1zM511 170h1v1h-1zM511 185h1v1h-1zM511 201h1v1h-1zM511 216h1v1h-1zM511 232h1v1h-1zM511 248h1v1h-1zM511 263h1v1h-1zM511 279h1v1h-1zM511 294h1v1h-1zM511 310h1v1h-1zM511 326h1v1h-1zM511 341h1v1h-1zM511 357h1v1h-1zM511 372h1v1h-1zM511 388h1v1h-1zM511 404h1v1h-1zM511 419h1v1h-1zM511 435h1v1h-1zM511 450h1v1h-1zM511 466h1v1h-1zM511 482h1v1h-1zM511 497h1v1h-1zM511 513h1v1h-1zM511 528h1v1h-1zM511 544h1v1h-1zM511 560h1v1h-1zM511 575h1v1h-1zM511 591h1v1h-1zM511 606h1v1h-1zM511 622h1v1h-1zM511 638h1v1h-1zM511 653h1v1h-1zM511 669h1v1h-1zM511 684h1v1h-1zM511 700h1v1h-1zM511 716h1v1h-1zM511 731h1v1h-1zM511 747h1v1h-1zM511 762h1v1h-1zM511 778h1v1h-1zM511 794h1v1h-1zM511 809h1v1h-1zM511 825h1v1h-1zM511 840h1v1h-1zM527 14h1v1h-1zM527 29h1v1h-1zM527 45h1v1h-1zM527 60h1v1h-1zM527 76h1v1h-1zM527 92h1v1h-1zM527 107h1v1h-1zM527 123h1v1h-1zM527 138h1v1h-1zM527 154h1v1h-1zM527 170h1v1h-1zM527 185h1v1h-1zM527 201h1v1h-1zM527 216h1v1h-1zM527 232h1v1h-1zM527 248h1v1h-1zM527 263h1v1h-1zM527 279h1v1h-1zM527 294h1v1h-1zM527 310h1v1h-1zM527 326h1v1h-1zM527 341h1v1h-1zM527 357h1v1h-1zM527 372h1v1h-1zM527 388h1v1h-1zM527 404h1v1h-1zM527 419h1v1h-1zM527 435h1v1h-1zM527 450h1v1h-1zM527 466h1v1h-1zM527 482h1v1h-1zM527 497h1v1h-1zM527 513h1v1h-1zM527 528h1v1h-1zM527 544h1v1h-1zM527 560h1v1h-1zM527 575h1v1h-1zM527 591h1v1h-1zM527 606h1v1h-1zM527 622h1v1h-1zM527 638h1v1h-1zM527 653h1v1h-1zM527 669h1v1h-1zM527 684h1v1h-1zM527 700h1v1h-1zM527 716h1v1h-1zM527 731h1v1h-1zM527 747h1v1h-1zM527 762h1v1h-1zM527 778h1v1h-1zM527 794h1v1h-1zM527 809h1v1h-1zM527 825h1v1h-1zM527 840h1v1h-1zM543 14h1v1h-1zM543 29h1v1h-1zM543 45h1v1h-1zM543 60h1v1h-1zM543 76h1v1h-1zM543 92h1v1h-1zM543 107h1v1h-1zM543 123h1v1h-1zM543 138h1v1h-1zM543 154h1v1h-1zM543 170h1v1h-1zM543 185h1v1h-1zM543 201h1v1h-1zM543 216h1v1h-1zM543 232h1v1h-1zM543 248h1v1h-1zM543 263h1v1h-1zM543 279h1v1h-1zM543 294h1v1h-1zM543 310h1v1h-1zM543 326h1v1h-1zM543 341h1v1h-1zM543 357h1v1h-1zM543 372h1v1h-1zM543 388h1v1h-1zM543 404h1v1h-1zM543 419h1v1h-1zM543 435h1v1h-1zM543 450h1v1h-1zM543 466h1v1h-1zM543 482h1v1h-1zM543 497h1v1h-1zM543 513h1v1h-1zM543 528h1v1h-1zM543 544h1v1h-1zM543 560h1v1h-1zM543 575h1v1h-1zM543 591h1v1h-1zM543 606h1v1h-1zM543 622h1v1h-1zM543 638h1v1h-1zM543 653h1v1h-1zM543 669h1v1h-1zM543 684h1v1h-1zM543 700h1v1h-1zM543 716h1v1h-1zM543 731h1v1h-1zM543 747h1v1h-1zM543 762h1v1h-1zM543 778h1v1h-1zM543 794h1v1h-1zM543 809h1v1h-1zM543 825h1v1h-1zM543 840h1v1h-1zM558 14h1v1h-1zM558 29h1v1h-1zM558 45h1v1h-1zM558 60h1v1h-1zM558 76h1v1h-1zM558 92h1v1h-1zM558 107h1v1h-1zM558 123h1v1h-1zM558 138h1v1h-1zM558 154h1v1h-1zM558 170h1v1h-1zM558 185h1v1h-1zM558 201h1v1h-1zM558 216h1v1h-1zM558 232h1v1h-1zM558 248h1v1h-1zM558 263h1v1h-1zM558 279h1v1h-1zM558 294h1v1h-1zM558 310h1v1h-1zM558 326h1v1h-1zM558 341h1v1h-1zM558 357h1v1h-1zM558 372h1v1h-1zM558 388h1v1h-1zM558 404h1v1h-1zM558 419h1v1h-1zM558 435h1v1h-1zM558 450h1v1h-1zM558 466h1v1h-1zM558 482h1v1h-1zM558 497h1v1h-1zM558 513h1v1h-1zM558 528h1v1h-1zM558 544h1v1h-1zM558 560h1v1h-1zM558 575h1v1h-1zM558 591h1v1h-1zM558 606h1v1h-1zM558 622h1v1h-1zM558 638h1v1h-1zM558 653h1v1h-1zM558 669h1v1h-1zM558 684h1v1h-1zM558 700h1v1h-1zM558 716h1v1h-1zM558 731h1v1h-1zM558 747h1v1h-1zM558 762h1v1h-1zM558 778h1v1h-1zM558 794h1v1h-1zM558 809h1v1h-1zM558 825h1v1h-1zM558 840h1v1h-1zM574 14h1v1h-1zM574 29h1v1h-1zM574 45h1v1h-1zM574 60h1v1h-1zM574 76h1v1h-1zM574 92h1v1h-1zM574 107h1v1h-1zM574 123h1v1h-1zM574 138h1v1h-1zM574 154h1v1h-1zM574 170h1v1h-1zM574 185h1v1h-1zM574 201h1v1h-1zM574 216h1v1h-1zM574 232h1v1h-1zM574 248h1v1h-1zM574 263h1v1h-1zM574 279h1v1h-1zM574 294h1v1h-1zM574 310h1v1h-1zM574 326h1v1h-1zM574 341h1v1h-1zM574 357h1v1h-1zM574 372h1v1h-1zM574 388h1v1h-1zM574 404h1v1h-1zM574 419h1v1h-1zM574 435h1v1h-1zM574 450h1v1h-1zM574 466h1v1h-1zM574 482h1v1h-1zM574 497h1v1h-1zM574 513h1v1h-1zM574 528h1v1h-1zM574 544h1v1h-1zM574 560h1v1h-1zM574 575h1v1h-1zM574 591h1v1h-1zM574 606h1v1h-1zM574 622h1v1h-1zM574 638h1v1h-1zM574 653h1v1h-1zM574 669h1v1h-1zM574 684h1v1h-1zM574 700h1v1h-1zM574 716h1v1h-1zM574 731h1v1h-1zM574 747h1v1h-1zM574 762h1v1h-1zM574 778h1v1h-1zM574 794h1v1h-1zM574 809h1v1h-1zM574 825h1v1h-1zM574 840h1v1h-1zM589 14h1v1h-1zM589 29h1v1h-1zM589 45h1v1h-1zM589 60h1v1h-1zM589 76h1v1h-1zM589 92h1v1h-1zM589 107h1v1h-1zM589 123h1v1h-1zM589 138h1v1h-1zM589 154h1v1h-1zM589 170h1v1h-1zM589 185h1v1h-1zM589 201h1v1h-1zM589 216h1v1h-1zM589 232h1v1h-1zM589 248h1v1h-1zM589 263h1v1h-1zM589 279h1v1h-1zM589 294h1v1h-1zM589 310h1v1h-1zM589 326h1v1h-1zM589 341h1v1h-1zM589 357h1v1h-1zM589 372h1v1h-1zM589 388h1v1h-1zM589 404h1v1h-1zM589 419h1v1h-1zM589 435h1v1h-1zM589 450h1v1h-1zM589 466h1v1h-1zM589 482h1v1h-1zM589 497h1v1h-1zM589 513h1v1h-1zM589 528h1v1h-1zM589 544h1v1h-1zM589 560h1v1h-1zM589 575h1v1h-1zM589 591h1v1h-1zM589 606h1v1h-1zM589 622h1v1h-1zM589 638h1v1h-1zM589 653h1v1h-1zM589 669h1v1h-1zM589 684h1v1h-1zM589 700h1v1h-1zM589 716h1v1h-1zM589 731h1v1h-1zM589 747h1v1h-1zM589 762h1v1h-1zM589 778h1v1h-1zM589 794h1v1h-1zM589 809h1v1h-1zM589 825h1v1h-1zM589 840h1v1h-1zM605 14h1v1h-1zM605 29h1v1h-1zM605 45h1v1h-1zM605 60h1v1h-1zM605 76h1v1h-1zM605 92h1v1h-1zM605 107h1v1h-1zM605 123h1v1h-1zM605 138h1v1h-1zM605 154h1v1h-1zM605 170h1v1h-1zM605 185h1v1h-1zM605 201h1v1h-1zM605 216h1v1h-1zM605 232h1v1h-1zM605 248h1v1h-1zM605 263h1v1h-1zM605 279h1v1h-1zM605 294h1v1h-1zM605 310h1v1h-1zM605 326h1v1h-1zM605 341h1v1h-1zM605 357h1v1h-1zM605 372h1v1h-1zM605 388h1v1h-1zM605 404h1v1h-1zM605 419h1v1h-1zM605 435h1v1h-1zM605 450h1v1h-1zM605 466h1v1h-1zM605 482h1v1h-1zM605 497h1v1h-1zM605 513h1v1h-1zM605 528h1v1h-1zM605 544h1v1h-1zM605 560h1v1h-1zM605 575h1v1h-1zM605 591h1v1h-1zM605 606h1v1h-1zM605 622h1v1h-1zM605 638h1v1h-1zM605 653h1v1h-1zM605 669h1v1h-1zM605 684h1v1h-1zM605 700h1v1h-1zM605 716h1v1h-1zM605 731h1v1h-1zM605 747h1v1h-1zM605 762h1v1h-1zM605 778h1v1h-1zM605 794h1v1h-1zM605 809h1v1h-1zM605 825h1v1h-1zM605 840h1v1h-1zM621 14h1v1h-1zM621 29h1v1h-1zM621 45h1v1h-1zM621 60h1v1h-1zM621 76h1v1h-1zM621 92h1v1h-1zM621 107h1v1h-1zM621 123h1v1h-1zM621 138h1v1h-1zM621 154h1v1h-1zM621 170h1v1h-1zM621 185h1v1h-1zM621 201h1v1h-1zM621 216h1v1h-1zM621 232h1v1h-1zM621 248h1v1h-1zM621 263h1v1h-1zM621 279h1v1h-1zM621 294h1v1h-1zM621 310h1v1h-1zM621 326h1v1h-1zM621 341h1v1h-1zM621 357h1v1h-1zM621 372h1v1h-1zM621 388h1v1h-1zM621 404h1v1h-1zM621 419h1v1h-1zM621 435h1v1h-1zM621 450h1v1h-1zM621 466h1v1h-1zM621 482h1v1h-1zM621 497h1v1h-1zM621 513h1v1h-1zM621 528h1v1h-1zM621 544h1v1h-1zM621 560h1v1h-1zM621 575h1v1h-1zM621 591h1v1h-1zM621 606h1v1h-1zM621 622h1v1h-1zM621 638h1v1h-1zM621 653h1v1h-1zM621 669h1v1h-1zM621 684h1v1h-1zM621 700h1v1h-1zM621 716h1v1h-1zM621 731h1v1h-1zM621 747h1v1h-1zM621 762h1v1h-1zM621 778h1v1h-1zM621 794h1v1h-1zM621 809h1v1h-1zM621 825h1v1h-1zM621 840h1v1h-1zM636 14h1v1h-1zM636 29h1v1h-1zM636 45h1v1h-1zM636 60h1v1h-1zM636 76h1v1h-1zM636 92h1v1h-1zM636 107h1v1h-1zM636 123h1v1h-1zM636 138h1v1h-1zM636 154h1v1h-1zM636 170h1v1h-1zM636 185h1v1h-1zM636 201h1v1h-1zM636 216h1v1h-1zM636 232h1v1h-1zM636 248h1v1h-1zM636 263h1v1h-1zM636 279h1v1h-1zM636 294h1v1h-1zM636 310h1v1h-1zM636 326h1v1h-1zM636 341h1v1h-1zM636 357h1v1h-1zM636 372h1v1h-1zM636 388h1v1h-1zM636 404h1v1h-1zM636 419h1v1h-1zM636 435h1v1h-1zM636 450h1v1h-1zM636 466h1v1h-1zM636 482h1v1h-1zM636 497h1v1h-1zM636 513h1v1h-1zM636 528h1v1h-1zM636 544h1v1h-1zM636 560h1v1h-1zM636 575h1v1h-1zM636 591h1v1h-1zM636 606h1v1h-1zM636 622h1v1h-1zM636 638h1v1h-1zM636 653h1v1h-1zM636 669h1v1h-1zM636 684h1v1h-1zM636 700h1v1h-1zM636 716h1v1h-1zM636 731h1v1h-1zM636 747h1v1h-1zM636 762h1v1h-1zM636 778h1v1h-1zM636 794h1v1h-1zM636 809h1v1h-1zM636 825h1v1h-1zM636 840h1v1h-1zM652 14h1v1h-1zM652 29h1v1h-1zM652 45h1v1h-1zM652 60h1v1h-1zM652 76h1v1h-1zM652 92h1v1h-1zM652 107h1v1h-1zM652 123h1v1h-1zM652 138h1v1h-1zM652 154h1v1h-1zM652 170h1v1h-1zM652 185h1v1h-1zM652 201h1v1h-1zM652 216h1v1h-1zM652 232h1v1h-1zM652 248h1v1h-1zM652 263h1v1h-1zM652 279h1v1h-1zM652 294h1v1h-1zM652 310h1v1h-1zM652 326h1v1h-1zM652 341h1v1h-1zM652 357h1v1h-1zM652 372h1v1h-1zM652 388h1v1h-1zM652 404h1v1h-1zM652 419h1v1h-1zM652 435h1v1h-1zM652 450h1v1h-1zM652 466h1v1h-1zM652 482h1v1h-1zM652 497h1v1h-1zM652 513h1v1h-1zM652 528h1v1h-1zM652 544h1v1h-1zM652 560h1v1h-1zM652 575h1v1h-1zM652 591h1v1h-1zM652 606h1v1h-1zM652 622h1v1h-1zM652 638h1v1h-1zM652 653h1v1h-1zM652 669h1v1h-1zM652 684h1v1h-1zM652 700h1v1h-1zM652 716h1v1h-1zM652 731h1v1h-1zM652 747h1v1h-1zM652 762h1v1h-1zM652 778h1v1h-1zM652 794h1v1h-1zM652 809h1v1h-1zM652 825h1v1h-1zM652 840h1v1h-1zM667 14h1v1h-1zM667 29h1v1h-1zM667 45h1v1h-1zM667 60h1v1h-1zM667 76h1v1h-1zM667 92h1v1h-1zM667 107h1v1h-1zM667 123h1v1h-1zM667 138h1v1h-1zM667 154h1v1h-1zM667 170h1v1h-1zM667 185h1v1h-1zM667 201h1v1h-1zM667 216h1v1h-1zM667 232h1v1h-1zM667 248h1v1h-1zM667 263h1v1h-1zM667 279h1v1h-1zM667 294h1v1h-1zM667 310h1v1h-1zM667 326h1v1h-1zM667 341h1v1h-1zM667 357h1v1h-1zM667 372h1v1h-1zM667 388h1v1h-1zM667 404h1v1h-1zM667 419h1v1h-1zM667 435h1v1h-1zM667 450h1v1h-1zM667 466h1v1h-1zM667 482h1v1h-1zM667 497h1v1h-1zM667 513h1v1h-1zM667 528h1v1h-1zM667 544h1v1h-1zM667 560h1v1h-1zM667 575h1v1h-1zM667 591h1v1h-1zM667 606h1v1h-1zM667 622h1v1h-1zM667 638h1v1h-1zM667 653h1v1h-1zM667 669h1v1h-1zM667 684h1v1h-1zM667 700h1v1h-1zM667 716h1v1h-1zM667 731h1v1h-1zM667 747h1v1h-1zM667 762h1v1h-1zM667 778h1v1h-1zM667 794h1v1h-1zM667 809h1v1h-1zM667 825h1v1h-1zM667 840h1v1h-1zM683 14h1v1h-1zM683 29h1v1h-1zM683 45h1v1h-1zM683 60h1v1h-1zM683 76h1v1h-1zM683 92h1v1h-1zM683 107h1v1h-1zM683 123h1v1h-1zM683 138h1v1h-1zM683 154h1v1h-1zM683 170h1v1h-1zM683 185h1v1h-1zM683 201h1v1h-1zM683 216h1v1h-1zM683 232h1v1h-1zM683 248h1v1h-1zM683 263h1v1h-1zM683 279h1v1h-1zM683 294h1v1h-1zM683 310h1v1h-1zM683 326h1v1h-1zM683 341h1v1h-1zM683 357h1v1h-1zM683 372h1v1h-1zM683 388h1v1h-1zM683 404h1v1h-1zM683 419h1v1h-1zM683 435h1v1h-1zM683 450h1v1h-1zM683 466h1v1h-1zM683 482h1v1h-1zM683 497h1v1h-1zM683 513h1v1h-1zM683 528h1v1h-1zM683 544h1v1h-1zM683 560h1v1h-1zM683 575h1v1h-1zM683 591h1v1h-1zM683 606h1v1h-1zM683 622h1v1h-1zM683 638h1v1h-1zM683 653h1v1h-1zM683 669h1v1h-1zM683 684h1v1h-1zM683 700h1v1h-1zM683 716h1v1h-1zM683 731h1v1h-1zM683 747h1v1h-1zM683 762h1v1h-1zM683 778h1v1h-1zM683 794h1v1h-1zM683 809h1v1h-1zM683 825h1v1h-1zM683 840h1v1h-1zM699 14h1v1h-1zM699 29h1v1h-1zM699 45h1v1h-1zM699 60h1v1h-1zM699 76h1v1h-1zM699 92h1v1h-1zM699 107h1v1h-1zM699 123h1v1h-1zM699 138h1v1h-1zM699 154h1v1h-1zM699 170h1v1h-1zM699 185h1v1h-1zM699 201h1v1h-1zM699 216h1v1h-1zM699 232h1v1h-1zM699 248h1v1h-1zM699 263h1v1h-1zM699 279h1v1h-1zM699 294h1v1h-1zM699 310h1v1h-1zM699 326h1v1h-1zM699 341h1v1h-1zM699 357h1v1h-1zM699 372h1v1h-1zM699 388h1v1h-1zM699 404h1v1h-1zM699 419h1v1h-1zM699 435h1v1h-1zM699 450h1v1h-1zM699 466h1v1h-1zM699 482h1v1h-1zM699 497h1v1h-1zM699 513h1v1h-1zM699 528h1v1h-1zM699 544h1v1h-1zM699 560h1v1h-1zM699 575h1v1h-1zM699 591h1v1h-1zM699 606h1v1h-1zM699 622h1v1h-1zM699 638h1v1h-1zM699 653h1v1h-1zM699 669h1v1h-1zM699 684h1v1h-1zM699 700h1v1h-1zM699 716h1v1h-1zM699 731h1v1h-1zM699 747h1v1h-1zM699 762h1v1h-1zM699 778h1v1h-1zM699 794h1v1h-1zM699 809h1v1h-1zM699 825h1v1h-1zM699 840h1v1h-1zM714 14h1v1h-1zM714 29h1v1h-1zM714 45h1v1h-1zM714 60h1v1h-1zM714 76h1v1h-1zM714 92h1v1h-1zM714 107h1v1h-1zM714 123h1v1h-1zM714 138h1v1h-1zM714 154h1v1h-1zM714 170h1v1h-1zM714 185h1v1h-1zM714 201h1v1h-1zM714 216h1v1h-1zM714 232h1v1h-1zM714 248h1v1h-1zM714 263h1v1h-1zM714 279h1v1h-1zM714 294h1v1h-1zM714 310h1v1h-1zM714 326h1v1h-1zM714 341h1v1h-1zM714 357h1v1h-1zM714 372h1v1h-1zM714 388h1v1h-1zM714 404h1v1h-1zM714 419h1v1h-1zM714 435h1v1h-1zM714 450h1v1h-1zM714 466h1v1h-1zM714 482h1v1h-1zM714 497h1v1h-1zM714 513h1v1h-1zM714 528h1v1h-1zM714 544h1v1h-1zM714 560h1v1h-1zM714 575h1v1h-1zM714 591h1v1h-1zM714 606h1v1h-1zM714 622h1v1h-1zM714 638h1v1h-1zM714 653h1v1h-1zM714 669h1v1h-1zM714 684h1v1h-1zM714 700h1v1h-1zM714 716h1v1h-1zM714 731h1v1h-1zM714 747h1v1h-1zM714 762h1v1h-1zM714 778h1v1h-1zM714 794h1v1h-1zM714 809h1v1h-1zM714 825h1v1h-1zM714 840h1v1h-1zM730 14h1v1h-1zM730 29h1v1h-1zM730 45h1v1h-1zM730 60h1v1h-1zM730 76h1v1h-1zM730 92h1v1h-1zM730 107h1v1h-1zM730 123h1v1h-1zM730 138h1v1h-1zM730 154h1v1h-1zM730 170h1v1h-1zM730 185h1v1h-1zM730 201h1v1h-1zM730 216h1v1h-1zM730 232h1v1h-1zM730 248h1v1h-1zM730 263h1v1h-1zM730 279h1v1h-1zM730 294h1v1h-1zM730 310h1v1h-1zM730 326h1v1h-1zM730 341h1v1h-1zM730 357h1v1h-1zM730 372h1v1h-1zM730 388h1v1h-1zM730 404h1v1h-1zM730 419h1v1h-1zM730 435h1v1h-1zM730 450h1v1h-1zM730 466h1v1h-1zM730 482h1v1h-1zM730 497h1v1h-1zM730 513h1v1h-1zM730 528h1v1h-1zM730 544h1v1h-1zM730 560h1v1h-1zM730 575h1v1h-1zM730 591h1v1h-1zM730 606h1v1h-1zM730 622h1v1h-1zM730 638h1v1h-1zM730 653h1v1h-1zM730 669h1v1h-1zM730 684h1v1h-1zM730 700h1v1h-1zM730 716h1v1h-1zM730 731h1v1h-1zM730 747h1v1h-1zM730 762h1v1h-1zM730 778h1v1h-1zM730 794h1v1h-1zM730 809h1v1h-1zM730 825h1v1h-1zM730 840h1v1h-1zM745 14h1v1h-1zM745 29h1v1h-1zM745 45h1v1h-1zM745 60h1v1h-1zM745 76h1v1h-1zM745 92h1v1h-1zM745 107h1v1h-1zM745 123h1v1h-1zM745 138h1v1h-1zM745 154h1v1h-1zM745 170h1v1h-1zM745 185h1v1h-1zM745 201h1v1h-1zM745 216h1v1h-1zM745 232h1v1h-1zM745 248h1v1h-1zM745 263h1v1h-1zM745 279h1v1h-1zM745 294h1v1h-1zM745 310h1v1h-1zM745 326h1v1h-1zM745 341h1v1h-1zM745 357h1v1h-1zM745 372h1v1h-1zM745 388h1v1h-1zM745 404h1v1h-1zM745 419h1v1h-1zM745 435h1v1h-1zM745 450h1v1h-1zM745 466h1v1h-1zM745 482h1v1h-1zM745 497h1v1h-1zM745 513h1v1h-1zM745 528h1v1h-1zM745 544h1v1h-1zM745 560h1v1h-1zM745 575h1v1h-1zM745 591h1v1h-1zM745 606h1v1h-1zM745 622h1v1h-1zM745 638h1v1h-1zM745 653h1v1h-1zM745 669h1v1h-1zM745 684h1v1h-1zM745 700h1v1h-1zM745 716h1v1h-1zM745 731h1v1h-1zM745 747h1v1h-1zM745 762h1v1h-1zM745 778h1v1h-1zM745 794h1v1h-1zM745 809h1v1h-1zM745 825h1v1h-1zM745 840h1v1h-1zM761 14h1v1h-1zM761 29h1v1h-1zM761 45h1v1h-1zM761 60h1v1h-1zM761 76h1v1h-1zM761 92h1v1h-1zM761 107h1v1h-1zM761 123h1v1h-1zM761 138h1v1h-1zM761 154h1v1h-1zM761 170h1v1h-1zM761 185h1v1h-1zM761 201h1v1h-1zM761 216h1v1h-1zM761 232h1v1h-1zM761 248h1v1h-1zM761 263h1v1h-1zM761 279h1v1h-1zM761 294h1v1h-1zM761 310h1v1h-1zM761 326h1v1h-1zM761 341h1v1h-1zM761 357h1v1h-1zM761 372h1v1h-1zM761 388h1v1h-1zM761 404h1v1h-1zM761 419h1v1h-1zM761 435h1v1h-1zM761 450h1v1h-1zM761 466h1v1h-1zM761 482h1v1h-1zM761 497h1v1h-1zM761 513h1v1h-1zM761 528h1v1h-1zM761 544h1v1h-1zM761 560h1v1h-1zM761 575h1v1h-1zM761 591h1v1h-1zM761 606h1v1h-1zM761 622h1v1h-1zM761 638h1v1h-1zM761 653h1v1h-1zM761 669h1v1h-1zM761 684h1v1h-1zM761 700h1v1h-1zM761 716h1v1h-1zM761 731h1v1h-1zM761 747h1v1h-1zM761 762h1v1h-1zM761 778h1v1h-1zM761 794h1v1h-1zM761 809h1v1h-1zM761 825h1v1h-1zM761 840h1v1h-1zM777 14h1v1h-1zM777 29h1v1h-1zM777 45h1v1h-1zM777 60h1v1h-1zM777 76h1v1h-1zM777 92h1v1h-1zM777 107h1v1h-1zM777 123h1v1h-1zM777 138h1v1h-1zM777 154h1v1h-1zM777 170h1v1h-1zM777 185h1v1h-1zM777 201h1v1h-1zM777 216h1v1h-1zM777 232h1v1h-1zM777 248h1v1h-1zM777 263h1v1h-1zM777 279h1v1h-1zM777 294h1v1h-1zM777 310h1v1h-1zM777 326h1v1h-1zM777 341h1v1h-1zM777 357h1v1h-1zM777 372h1v1h-1zM777 388h1v1h-1zM777 404h1v1h-1zM777 419h1v1h-1zM777 435h1v1h-1zM777 450h1v1h-1zM777 466h1v1h-1zM777 482h1v1h-1zM777 497h1v1h-1zM777 513h1v1h-1zM777 528h1v1h-1zM777 544h1v1h-1zM777 560h1v1h-1zM777 575h1v1h-1zM777 591h1v1h-1zM777 606h1v1h-1zM777 622h1v1h-1zM777 638h1v1h-1zM777 653h1v1h-1zM777 669h1v1h-1zM777 684h1v1h-1zM777 700h1v1h-1zM777 716h1v1h-1zM777 731h1v1h-1zM777 747h1v1h-1zM777 762h1v1h-1zM777 778h1v1h-1zM777 794h1v1h-1zM777 809h1v1h-1zM777 825h1v1h-1zM777 840h1v1h-1zM792 14h1v1h-1zM792 29h1v1h-1zM792 45h1v1h-1zM792 60h1v1h-1zM792 76h1v1h-1zM792 92h1v1h-1zM792 107h1v1h-1zM792 123h1v1h-1zM792 138h1v1h-1zM792 154h1v1h-1zM792 170h1v1h-1zM792 185h1v1h-1zM792 201h1v1h-1zM792 216h1v1h-1zM792 232h1v1h-1zM792 248h1v1h-1zM792 263h1v1h-1zM792 279h1v1h-1zM792 294h1v1h-1zM792 310h1v1h-1zM792 326h1v1h-1zM792 341h1v1h-1zM792 357h1v1h-1zM792 372h1v1h-1zM792 388h1v1h-1zM792 404h1v1h-1zM792 419h1v1h-1zM792 435h1v1h-1zM792 450h1v1h-1zM792 466h1v1h-1zM792 482h1v1h-1zM792 497h1v1h-1zM792 513h1v1h-1zM792 528h1v1h-1zM792 544h1v1h-1zM792 560h1v1h-1zM792 575h1v1h-1zM792 591h1v1h-1zM792 606h1v1h-1zM792 622h1v1h-1zM792 638h1v1h-1zM792 653h1v1h-1zM792 669h1v1h-1zM792 684h1v1h-1zM792 700h1v1h-1zM792 716h1v1h-1zM792 731h1v1h-1zM792 747h1v1h-1zM792 762h1v1h-1zM792 778h1v1h-1zM792 794h1v1h-1zM792 809h1v1h-1zM792 825h1v1h-1zM792 840h1v1h-1zM808 14h1v1h-1zM808 29h1v1h-1zM808 45h1v1h-1zM808 60h1v1h-1zM808 76h1v1h-1zM808 92h1v1h-1zM808 107h1v1h-1zM808 123h1v1h-1zM808 138h1v1h-1zM808 154h1v1h-1zM808 170h1v1h-1zM808 185h1v1h-1zM808 201h1v1h-1zM808 216h1v1h-1zM808 232h1v1h-1zM808 248h1v1h-1zM808 263h1v1h-1zM808 279h1v1h-1zM808 294h1v1h-1zM808 310h1v1h-1zM808 326h1v1h-1zM808 341h1v1h-1zM808 357h1v1h-1zM808 372h1v1h-1zM808 388h1v1h-1zM808 404h1v1h-1zM808 419h1v1h-1zM808 435h1v1h-1zM808 450h1v1h-1zM808 466h1v1h-1zM808 482h1v1h-1zM808 497h1v1h-1zM808 513h1v1h-1zM808 528h1v1h-1zM808 544h1v1h-1zM808 560h1v1h-1zM808 575h1v1h-1zM808 591h1v1h-1zM808 606h1v1h-1zM808 622h1v1h-1zM808 638h1v1h-1zM808 653h1v1h-1zM808 669h1v1h-1zM808 684h1v1h-1zM808 700h1v1h-1zM808 716h1v1h-1zM808 731h1v1h-1zM808 747h1v1h-1zM808 762h1v1h-1zM808 778h1v1h-1zM808 794h1v1h-1zM808 809h1v1h-1zM808 825h1v1h-1zM808 840h1v1h-1zM823 14h1v1h-1zM823 29h1v1h-1zM823 45h1v1h-1zM823 60h1v1h-1zM823 76h1v1h-1zM823 92h1v1h-1zM823 107h1v1h-1zM823 123h1v1h-1zM823 138h1v1h-1zM823 154h1v1h-1zM823 170h1v1h-1zM823 185h1v1h-1zM823 201h1v1h-1zM823 216h1v1h-1zM823 232h1v1h-1zM823 248h1v1h-1zM823 263h1v1h-1zM823 279h1v1h-1zM823 294h1v1h-1zM823 310h1v1h-1zM823 326h1v1h-1zM823 341h1v1h-1zM823 357h1v1h-1zM823 372h1v1h-1zM823 388h1v1h-1zM823 404h1v1h-1zM823 419h1v1h-1zM823 435h1v1h-1zM823 450h1v1h-1zM823 466h1v1h-1zM823 482h1v1h-1zM823 497h1v1h-1zM823 513h1v1h-1zM823 528h1v1h-1zM823 544h1v1h-1zM823 560h1v1h-1zM823 575h1v1h-1zM823 591h1v1h-1zM823 606h1v1h-1zM823 622h1v1h-1zM823 638h1v1h-1zM823 653h1v1h-1zM823 669h1v1h-1zM823 684h1v1h-1zM823 700h1v1h-1zM823 716h1v1h-1zM823 731h1v1h-1zM823 747h1v1h-1zM823 762h1v1h-1zM823 778h1v1h-1zM823 794h1v1h-1zM823 809h1v1h-1zM823 825h1v1h-1zM823 840h1v1h-1zM839 14h1v1h-1zM839 29h1v1h-1zM839 45h1v1h-1zM839 60h1v1h-1zM839 76h1v1h-1zM839 92h1v1h-1zM839 107h1v1h-1zM839 123h1v1h-1zM839 138h1v1h-1zM839 154h1v1h-1zM839 170h1v1h-1zM839 185h1v1h-1zM839 201h1v1h-1zM839 216h1v1h-1zM839 232h1v1h-1zM839 248h1v1h-1zM839 263h1v1h-1zM839 279h1v1h-1zM839 294h1v1h-1zM839 310h1v1h-1zM839 326h1v1h-1zM839 341h1v1h-1zM839 357h1v1h-1zM839 372h1v1h-1zM839 388h1v1h-1zM839 404h1v1h-1zM839 419h1v1h-1zM839 435h1v1h-1zM839 450h1v1h-1zM839 466h1v1h-1zM839 482h1v1h-1zM839 497h1v1h-1zM839 513h1v1h-1zM839 528h1v1h-1zM839 544h1v1h-1zM839 560h1v1h-1zM839 575h1v1h-1zM839 591h1v1h-1zM839 606h1v1h-1zM839 622h1v1h-1zM839 638h1v1h-1zM839 653h1v1h-1zM839 669h1v1h-1zM839 684h1v1h-1zM839 700h1v1h-1zM839 716h1v1h-1zM839 731h1v1h-1zM839 747h1v1h-1zM839 762h1v1h-1zM839 778h1v1h-1zM839 794h1v1h-1zM839 809h1v1h-1zM839 825h1v1h-1zM839 840h1v1h-1zM855 14h1v1h-1zM855 29h1v1h-1zM855 45h1v1h-1zM855 60h1v1h-1zM855 76h1v1h-1zM855 92h1v1h-1zM855 107h1v1h-1zM855 123h1v1h-1zM855 138h1v1h-1zM855 154h1v1h-1zM855 170h1v1h-1zM855 185h1v1h-1zM855 201h1v1h-1zM855 216h1v1h-1zM855 232h1v1h-1zM855 248h1v1h-1zM855 263h1v1h-1zM855 279h1v1h-1zM855 294h1v1h-1zM855 310h1v1h-1zM855 326h1v1h-1zM855 341h1v1h-1zM855 357h1v1h-1zM855 372h1v1h-1zM855 388h1v1h-1zM855 404h1v1h-1zM855 419h1v1h-1zM855 435h1v1h-1zM855 450h1v1h-1zM855 466h1v1h-1zM855 482h1v1h-1zM855 497h1v1h-1zM855 513h1v1h-1zM855 528h1v1h-1zM855 544h1v1h-1zM855 560h1v1h-1zM855 575h1v1h-1zM855 591h1v1h-1zM855 606h1v1h-1zM855 622h1v1h-1zM855 638h1v1h-1zM855 653h1v1h-1zM855 669h1v1h-1zM855 684h1v1h-1zM855 700h1v1h-1zM855 716h1v1h-1zM855 731h1v1h-1zM855 747h1v1h-1zM855 762h1v1h-1zM855 778h1v1h-1zM855 794h1v1h-1zM855 809h1v1h-1zM855 825h1v1h-1zM855 840h1v1h-1zM870 14h1v1h-1zM870 29h1v1h-1zM870 45h1v1h-1zM870 60h1v1h-1zM870 76h1v1h-1zM870 92h1v1h-1zM870 107h1v1h-1zM870 123h1v1h-1zM870 138h1v1h-1zM870 154h1v1h-1zM870 170h1v1h-1zM870 185h1v1h-1zM870 201h1v1h-1zM870 216h1v1h-1zM870 232h1v1h-1zM870 248h1v1h-1zM870 263h1v1h-1zM870 279h1v1h-1zM870 294h1v1h-1zM870 310h1v1h-1zM870 326h1v1h-1zM870 341h1v1h-1zM870 357h1v1h-1zM870 372h1v1h-1zM870 388h1v1h-1zM870 404h1v1h-1zM870 419h1v1h-1zM870 435h1v1h-1zM870 450h1v1h-1zM870 466h1v1h-1zM870 482h1v1h-1zM870 497h1v1h-1zM870 513h1v1h-1zM870 528h1v1h-1zM870 544h1v1h-1zM870 560h1v1h-1zM870 575h1v1h-1zM870 591h1v1h-1zM870 606h1v1h-1zM870 622h1v1h-1zM870 638h1v1h-1zM870 653h1v1h-1zM870 669h1v1h-1zM870 684h1v1h-1zM870 700h1v1h-1zM870 716h1v1h-1zM870 731h1v1h-1zM870 747h1v1h-1zM870 762h1v1h-1zM870 778h1v1h-1zM870 794h1v1h-1zM870 809h1v1h-1zM870 825h1v1h-1zM870 840h1v1h-1zM886 14h1v1h-1zM886 29h1v1h-1zM886 45h1v1h-1zM886 60h1v1h-1zM886 76h1v1h-1zM886 92h1v1h-1zM886 107h1v1h-1zM886 123h1v1h-1zM886 138h1v1h-1zM886 154h1v1h-1zM886 170h1v1h-1zM886 185h1v1h-1zM886 201h1v1h-1zM886 216h1v1h-1zM886 232h1v1h-1zM886 248h1v1h-1zM886 263h1v1h-1zM886 279h1v1h-1zM886 294h1v1h-1zM886 310h1v1h-1zM886 326h1v1h-1zM886 341h1v1h-1zM886 357h1v1h-1zM886 372h1v1h-1zM886 388h1v1h-1zM886 404h1v1h-1zM886 419h1v1h-1zM886 435h1v1h-1zM886 450h1v1h-1zM886 466h1v1h-1zM886 482h1v1h-1zM886 497h1v1h-1zM886 513h1v1h-1zM886 528h1v1h-1zM886 544h1v1h-1zM886 560h1v1h-1zM886 575h1v1h-1zM886 591h1v1h-1zM886 606h1v1h-1zM886 622h1v1h-1zM886 638h1v1h-1zM886 653h1v1h-1zM886 669h1v1h-1zM886 684h1v1h-1zM886 700h1v1h-1zM886 716h1v1h-1zM886 731h1v1h-1zM886 747h1v1h-1zM886 762h1v1h-1zM886 778h1v1h-1zM886 794h1v1h-1zM886 809h1v1h-1zM886 825h1v1h-1zM886 840h1v1h-1zM901 14h1v1h-1zM901 29h1v1h-1zM901 45h1v1h-1zM901 60h1v1h-1zM901 76h1v1h-1zM901 92h1v1h-1zM901 107h1v1h-1zM901 123h1v1h-1zM901 138h1v1h-1zM901 154h1v1h-1zM901 170h1v1h-1zM901 185h1v1h-1zM901 201h1v1h-1zM901 216h1v1h-1zM901 232h1v1h-1zM901 248h1v1h-1zM901 263h1v1h-1zM901 279h1v1h-1zM901 294h1v1h-1zM901 310h1v1h-1zM901 326h1v1h-1zM901 341h1v1h-1zM901 357h1v1h-1zM901 372h1v1h-1zM901 388h1v1h-1zM901 404h1v1h-1zM901 419h1v1h-1zM901 435h1v1h-1zM901 450h1v1h-1zM901 466h1v1h-1zM901 482h1v1h-1zM901 497h1v1h-1zM901 513h1v1h-1zM901 528h1v1h-1zM901 544h1v1h-1zM901 560h1v1h-1zM901 575h1v1h-1zM901 591h1v1h-1zM901 606h1v1h-1zM901 622h1v1h-1zM901 638h1v1h-1zM901 653h1v1h-1zM901 669h1v1h-1zM901 684h1v1h-1zM901 700h1v1h-1zM901 716h1v1h-1zM901 731h1v1h-1zM901 747h1v1h-1zM901 762h1v1h-1zM901 778h1v1h-1zM901 794h1v1h-1zM901 809h1v1h-1zM901 825h1v1h-1zM901 840h1v1h-1zM917 14h1v1h-1zM917 29h1v1h-1zM917 45h1v1h-1zM917 60h1v1h-1zM917 76h1v1h-1zM917 92h1v1h-1zM917 107h1v1h-1zM917 123h1v1h-1zM917 138h1v1h-1zM917 154h1v1h-1zM917 170h1v1h-1zM917 185h1v1h-1zM917 201h1v1h-1zM917 216h1v1h-1zM917 232h1v1h-1zM917 248h1v1h-1zM917 263h1v1h-1zM917 279h1v1h-1zM917 294h1v1h-1zM917 310h1v1h-1zM917 326h1v1h-1zM917 341h1v1h-1zM917 357h1v1h-1zM917 372h1v1h-1zM917 388h1v1h-1zM917 404h1v1h-1zM917 419h1v1h-1zM917 435h1v1h-1zM917 450h1v1h-1zM917 466h1v1h-1zM917 482h1v1h-1zM917 497h1v1h-1zM917 513h1v1h-1zM917 528h1v1h-1zM917 544h1v1h-1zM917 560h1v1h-1zM917 575h1v1h-1zM917 591h1v1h-1zM917 606h1v1h-1zM917 622h1v1h-1zM917 638h1v1h-1zM917 653h1v1h-1zM917 669h1v1h-1zM917 684h1v1h-1zM917 700h1v1h-1zM917 716h1v1h-1zM917 731h1v1h-1zM917 747h1v1h-1zM917 762h1v1h-1zM917 778h1v1h-1zM917 794h1v1h-1zM917 809h1v1h-1zM917 825h1v1h-1zM917 840h1v1h-1zM933 14h1v1h-1zM933 29h1v1h-1zM933 45h1v1h-1zM933 60h1v1h-1zM933 76h1v1h-1zM933 92h1v1h-1zM933 107h1v1h-1zM933 123h1v1h-1zM933 138h1v1h-1zM933 154h1v1h-1zM933 170h1v1h-1zM933 185h1v1h-1zM933 201h1v1h-1zM933 216h1v1h-1zM933 232h1v1h-1zM933 248h1v1h-1zM933 263h1v1h-1zM933 279h1v1h-1zM933 294h1v1h-1zM933 310h1v1h-1zM933 326h1v1h-1zM933 341h1v1h-1zM933 357h1v1h-1zM933 372h1v1h-1zM933 388h1v1h-1zM933 404h1v1h-1zM933 419h1v1h-1zM933 435h1v1h-1zM933 450h1v1h-1zM933 466h1v1h-1zM933 482h1v1h-1zM933 497h1v1h-1zM933 513h1v1h-1zM933 528h1v1h-1zM933 544h1v1h-1zM933 560h1v1h-1zM933 575h1v1h-1zM933 591h1v1h-1zM933 606h1v1h-1zM933 622h1v1h-1zM933 638h1v1h-1zM933 653h1v1h-1zM933 669h1v1h-1zM933 684h1v1h-1zM933 700h1v1h-1zM933 716h1v1h-1zM933 731h1v1h-1zM933 747h1v1h-1zM933 762h1v1h-1zM933 778h1v1h-1zM933 794h1v1h-1zM933 809h1v1h-1zM933 825h1v1h-1zM933 840h1v1h-1z"/>
<rect x="324" y="45" width="1" height="63" fill="#009600"/>
<rect x="324" y="45" width="64" height="1" fill="#009600"/>
<rect x="387" y="45" width="1" height="17" fill="#009600"/>
<rect x="387" y="61" width="1" height="22" fill="#ff0000"/>
<rect x="371" y="82" width="32" height="1" fill="#ff0000"/>
<rect x="380" y="88" width="14" height="1" fill="#ff0000"/>
<rect x="371" y="95" width="32" height="1" fill="#ff0000"/>
<rect x="380" y="101" width="14" height="1" fill="#ff0000"/>
<rect x="387" y="101" width="1" height="23" fill="#ff0000"/>
<rect x="387" y="123" width="1" height="16" fill="#009600"/>
<rect x="387" y="138" width="1" height="17" fill="#ff0000"/>
<rect x="371" y="154" width="32" height="1" fill="#ff0000"/>
<rect x="377" y="159" width="20" height="1" fill="#ff0000"/>
<rect x="383" y="163" width="8" height="1" fill="#ff0000"/>
<rect x="324" y="108" width="1" height="8" fill="#ff0000"/>
<rect x="309.5" y="115.5" width="31" height="31" fill="none" stroke="#ff0000" stroke-width="1"/>
<rect x="324" y="115" width="1" height="12" fill="#ff0000"/>
<path d="M324.5 127 L318 129.5" stroke="#ff0000" stroke-width="1" fill="none" />
<rect x="316" y="123" width="1" height="17" fill="#ff0000"/>
<path d="M318 132.5 L324.5 135.5" stroke="#ff0000" stroke-width="1" fill="none" />
<rect x="324" y="135" width="1" height="19" fill="#ff0000"/>
<rect x="298" y="115" width="8" height="1" fill="#ff0000"/>
<rect x="301" y="112" width="1" height="9" fill="#ff0000"/>
<rect x="137" y="123" width="157" height="1" fill="#009600"/>
<rect x="294" y="123" width="16" height="1" fill="#ff0000"/>
<rect x="293" y="138" width="17" height="1" fill="#ff0000"/>
<rect x="293" y="138" width="1" height="17" fill="#ff0000"/>
<rect x="277" y="154" width="33" height="1" fill="#ff0000"/>
<rect x="284" y="159" width="19" height="1" fill="#ff0000"/>
<rect x="290" y="163" width="7" height="1" fill="#ff0000"/>
<rect x="324" y="154" width="1" height="95" fill="#009600"/>
<rect x="324" y="248" width="1" height="8" fill="#ff0000"/>
<rect x="309.5" y="255.5" width="31" height="32" fill="none" stroke="#ff0000" stroke-width="1"/>
<rect x="324" y="255" width="1" height="12" fill="#ff0000"/>
<path d="M324.5 267 L318 269.5" stroke="#ff0000" stroke-width="1" fill="none" />
<rect x="316" y="263" width="1" height="17" fill="#ff0000"/>
<path d="M318 272.5 L324.5 275.5" stroke="#ff0000" stroke-width="1" fill="none" />
<rect x="324" y="275" width="1" height="20" fill="#ff0000"/>
<rect x="298" y="255" width="8" height="1" fill="#ff0000"/>
<rect x="301" y="252" width="1" height="9" fill="#ff0000"/>
<rect x="293" y="279" width="17" height="1" fill="#ff0000"/>
<rect x="293" y="279" width="1" height="16" fill="#ff0000"/>
<rect x="277" y="294" width="33" height="1" fill="#ff0000"/>
<rect x="284" y="299" width="19" height="1" fill="#ff0000"/>
<rect x="290" y="304" width="7" height="1" fill="#ff0000"/>
<rect x="324" y="294" width="1" height="64" fill="#009600"/>
<rect x="324" y="358" width="1" height="15" fill="#ff0000"/>
<rect x="309" y="372" width="32" height="1" fill="#ff0000"/>
<rect x="315" y="377" width="20" height="1" fill="#ff0000"/>
<rect x="321" y="382" width="8" height="1" fill="#ff0000"/>
<rect x="322" y="198" width="6" height="6" fill="#008c00"/>
<rect x="137" y="123" width="1" height="469" fill="#009600"/>
<rect x="137" y="591" width="219" height="1" fill="#009600"/>
<rect x="134" y="245" width="6" height="6" fill="#008c00"/>
<rect x="137" y="248" width="17" height="1" fill="#009600"/>
<rect x="154" y="248" width="15" height="1" fill="#ff0000"/>
<path d="M168.5 216.5 L215.5 248.5 L168.5 279.5 Z" stroke="#ff0000" stroke-width="1" fill="none" />
<rect x="191" y="232" width="41" height="1" fill="#ff0000"/>
<circle cx="202" cy="263.5" r="5.5" fill="none" stroke="#ff0000" stroke-width="1"/>
<rect x="208" y="263" width="23" height="1" fill="#ff0000"/>
<rect x="231" y="263" width="63" height="1" fill="#009600"/>
<rect x="294" y="263" width="16" height="1" fill="#ff0000"/>
<rect x="184" y="269" width="1" height="42" fill="#ff0000"/>
<rect x="168" y="310" width="32" height="1" fill="#ff0000"/>
<rect x="174" y="315" width="20" height="1" fill="#ff0000"/>
<rect x="180" y="319" width="8" height="1" fill="#ff0000"/>
<rect x="324" y="201" width="42" height="1" fill="#009600"/>
<circle cx="372" cy="201.5" r="6" fill="none" stroke="#ff0000" stroke-width="1"/>
<rect x="375" y="201" width="13" height="1" fill="#ff0000"/>
<rect x="369" y="198" width="6" height="6" fill="#008c00"/>
<path d="M387.5 201 L387.5 198.5 Q390 193.5 395 193.5 Q399.5 193.5 402.5 200 Q405.5 193.5 410 193.5 Q415 193.5 418.5 200 L419 201.5" stroke="#ff0000" stroke-width="1" fill="none" />
<rect x="419" y="201" width="15" height="1" fill="#ff0000"/>
<rect x="434" y="201" width="234" height="1" fill="#009600"/>
<path d="M376 197 L380.5 193.5" stroke="#ff0000" stroke-width="1" fill="none" />
<rect x="380" y="181" width="1" height="13" fill="#ff0000"/>
<rect x="381" y="188" width="3" height="1" fill="#ff0000"/>
<rect x="381" y="193" width="7" height="1" fill="#ff0000"/>
<path d="M371.5 189 L371.5 181.5 L374.5 186 L377.5 181.5 L377.5 189" stroke="#ff0000" stroke-width="1" fill="none" />
<circle cx="387" cy="209" r="1.6" fill="none" stroke="#ff0000" stroke-width="1"/>
<rect x="493" y="198" width="6" height="6" fill="#008c00"/>
<rect x="556" y="198" width="6" height="6" fill="#008c00"/>
<rect x="618" y="198" width="6" height="6" fill="#008c00"/>
<rect x="665" y="198" width="6" height="6" fill="#008c00"/>
<rect x="496" y="201" width="1" height="32" fill="#009600"/>
<rect x="496" y="233" width="1" height="11" fill="#ff0000"/>
<rect x="485" y="243" width="23" height="1" fill="#ff0000"/>
<path d="M485.5 255 L488 252.5 L491.5 250.5 L501.5 250.5 L505 252.5 L508 255" stroke="#ff0000" stroke-width="1" fill="none" />
<rect x="496" y="250" width="1" height="13" fill="#ff0000"/>
<rect x="496" y="263" width="1" height="95" fill="#009600"/>
<rect x="496" y="358" width="1" height="15" fill="#ff0000"/>
<rect x="480" y="372" width="32" height="1" fill="#ff0000"/>
<rect x="486" y="377" width="20" height="1" fill="#ff0000"/>
<rect x="492" y="382" width="8" height="1" fill="#ff0000"/>
<rect x="499" y="235" width="7" height="1" fill="#ff0000"/>
<rect x="502" y="232" width="1" height="7" fill="#ff0000"/>
<path d="M478.5 240 L478.5 232.5 L481 237 L483.5 232.5 L483.5 240" stroke="#ff0000" stroke-width="1" fill="none" />
<rect x="485" y="232" width="1" height="8" fill="#ff0000"/>
<rect x="485" y="239" width="6" height="1" fill="#ff0000"/>
<rect x="558" y="201" width="1" height="16" fill="#009600"/>
<rect x="558" y="217" width="1" height="9" fill="#ff0000"/>
<path d="M558.5 225.5 L554.3 229 L562.5 236.5 L554.3 244 L562.5 252 L558.5 255.5" stroke="#ff0000" stroke-width="1" fill="none" />
<rect x="558" y="255" width="1" height="9" fill="#ff0000"/>
<rect x="558" y="263" width="1" height="95" fill="#009600"/>
<rect x="558" y="358" width="1" height="15" fill="#ff0000"/>
<rect x="543" y="372" width="32" height="1" fill="#ff0000"/>
<rect x="549" y="377" width="20" height="1" fill="#ff0000"/>
<rect x="555" y="382" width="8" height="1" fill="#ff0000"/>
<rect x="621" y="201" width="1" height="16" fill="#009600"/>
<rect x="621" y="217" width="1" height="9" fill="#ff0000"/>
<path d="M621.5 225.5 L617.3 229 L625.5 236.5 L617.3 244 L625.5 252 L621.5 255.5" stroke="#ff0000" stroke-width="1" fill="none" />
<rect x="621" y="255" width="1" height="9" fill="#ff0000"/>
<rect x="621" y="263" width="1" height="17" fill="#009600"/>
<rect x="621" y="280" width="1" height="11" fill="#ff0000"/>
<rect x="610" y="290" width="23" height="1" fill="#ff0000"/>
<path d="M610.5 301 L613 298.5 L616.5 296.5 L626.5 296.5 L630 298.5 L633 301" stroke="#ff0000" stroke-width="1" fill="none" />
<rect x="621" y="296" width="1" height="15" fill="#ff0000"/>
<rect x="621" y="310" width="47" height="1" fill="#009600"/>
<rect x="624" y="282" width="7" height="1" fill="#ff0000"/>
<rect x="627" y="279" width="1" height="7" fill="#ff0000"/>
<path d="M603.5 286 L603.5 278.5 L606 283 L608.5 278.5 L608.5 286" stroke="#ff0000" stroke-width="1" fill="none" />
<rect x="610" y="278" width="1" height="8" fill="#ff0000"/>
<rect x="610" y="285" width="6" height="1" fill="#ff0000"/>
<rect x="667" y="201" width="1" height="16" fill="#009600"/>
<rect x="667" y="217" width="1" height="9" fill="#ff0000"/>
<path d="M667.5 225.5 L663.3 229 L671.5 236.5 L663.3 244 L671.5 252 L667.5 255.5" stroke="#ff0000" stroke-width="1" fill="none" />
<rect x="667" y="255" width="1" height="9" fill="#ff0000"/>
<rect x="667" y="263" width="1" height="64" fill="#009600"/>
<rect x="665" y="276" width="6" height="6" fill="#008c00"/>
<rect x="665" y="308" width="6" height="6" fill="#008c00"/>
<rect x="667" y="327" width="1" height="9" fill="#ff0000"/>
<path d="M667.5 335.5 L663.3 339 L671.5 346.5 L663.3 354 L671.5 362 L667.5 365.5" stroke="#ff0000" stroke-width="1" fill="none" />
<rect x="667" y="365" width="1" height="9" fill="#ff0000"/>
<rect x="667" y="373" width="1" height="16" fill="#009600"/>
<rect x="667" y="389" width="1" height="16" fill="#ff0000"/>
<rect x="652" y="404" width="32" height="1" fill="#ff0000"/>
<rect x="658" y="409" width="20" height="1" fill="#ff0000"/>
<rect x="664" y="413" width="8" height="1" fill="#ff0000"/>
<rect x="667" y="279" width="64" height="1" fill="#009600"/>
<rect x="730" y="279" width="1" height="297" fill="#009600"/>
<path d="M667.5 201 L676 193.5" stroke="#ff0000" stroke-width="1" fill="none" />
<rect x="676" y="185" width="1" height="9" fill="#ff0000"/>
<rect x="676" y="193" width="8" height="1" fill="#ff0000"/>
<rect x="496" y="450" width="79" height="1" fill="#009600"/>
<rect x="575" y="450" width="14" height="1" fill="#ff0000"/>
<path d="M583.5 439.5 L586.5 443.5 L588.5 447 L588.5 454 L586.5 457.5 L584 462" stroke="#ff0000" stroke-width="1" fill="none" />
<rect x="594" y="439" width="1" height="23" fill="#ff0000"/>
<rect x="595" y="450" width="11" height="1" fill="#ff0000"/>
<rect x="606" y="450" width="94" height="1" fill="#009600"/>
<rect x="496" y="450" width="1" height="142" fill="#009600"/>
<rect x="699" y="450" width="1" height="126" fill="#009600"/>
<rect x="599" y="457" width="7" height="1" fill="#ff0000"/>
<rect x="602" y="454" width="1" height="7" fill="#ff0000"/>
<rect x="599" y="433" width="8" height="1" fill="#ff0000"/>
<rect x="599" y="438" width="8" height="1" fill="#ff0000"/>
<path d="M606.5 433.5 L602 436 L606.5 438.5" stroke="#ff0000" stroke-width="1" fill="none" />
<rect x="599" y="440" width="8" height="1" fill="#ff0000"/>
<rect x="599" y="440" width="1" height="5" fill="#ff0000"/>
<rect x="496" y="497" width="32" height="1" fill="#009600"/>
<rect x="528" y="497" width="14" height="1" fill="#ff0000"/>
<path d="M536.5 486.5 L540.5 491.5 L541.5 497 L541 503.5 L537.5 508.5" stroke="#ff0000" stroke-width="1" fill="none" />
<rect x="547" y="486" width="1" height="23" fill="#ff0000"/>
<rect x="548" y="497" width="10" height="1" fill="#ff0000"/>
<rect x="558" y="497" width="64" height="1" fill="#009600"/>
<path d="M622 497.5 L628 497.5 L632.5 502.5 L641 493.5 L649 502.5 L657 493.5 L661 497.5 L667 497.5" stroke="#ff0000" stroke-width="1" fill="none" />
<rect x="667" y="497" width="33" height="1" fill="#009600"/>
<rect x="552" y="503" width="7" height="1" fill="#ff0000"/>
<rect x="555" y="500" width="1" height="7" fill="#ff0000"/>
<rect x="552" y="480" width="8" height="1" fill="#ff0000"/>
<rect x="552" y="485" width="8" height="1" fill="#ff0000"/>
<path d="M559.5 480.5 L555 483 L559.5 485.5" stroke="#ff0000" stroke-width="1" fill="none" />
<rect x="552" y="487" width="8" height="1" fill="#ff0000"/>
<rect x="552" y="487" width="1" height="5" fill="#ff0000"/>
<rect x="493" y="495" width="6" height="6" fill="#008c00"/>
<rect x="696" y="495" width="6" height="6" fill="#008c00"/>
<rect x="493" y="588" width="6" height="6" fill="#008c00"/>
<rect x="696" y="573" width="6" height="6" fill="#008c00"/>
<path d="M558.5 591.5 L605.5 561 L605.5 622.5 Z" stroke="#0000ff" stroke-width="1" fill="none" />
<rect x="574" y="560" width="1" height="22" fill="#0000ff"/>
<path d="M566.5 552.5 L583.5 569.5 M566.5 569.5 L583.5 552.5" stroke="#0000ff" stroke-width="1" fill="none" />
<rect x="574" y="528" width="1" height="32" fill="#009600"/>
<rect x="574" y="528" width="32" height="1" fill="#009600"/>
<rect x="605" y="528" width="1" height="17" fill="#ff0000"/>
<rect x="589" y="544" width="33" height="1" fill="#ff0000"/>
<rect x="596" y="549" width="19" height="1" fill="#ff0000"/>
<rect x="602" y="553" width="7" height="1" fill="#ff0000"/>
<rect x="605" y="575" width="17" height="1" fill="#0000ff"/>
<path d="M613.5 567.5 L630.5 584.5 M613.5 584.5 L630.5 567.5" stroke="#0000ff" stroke-width="1" fill="none" />
<rect x="622" y="575" width="109" height="1" fill="#009600"/>
<rect x="605" y="606" width="17" height="1" fill="#0000ff"/>
<rect x="621" y="606" width="1" height="23" fill="#ff0000"/>
<rect x="605" y="628" width="32" height="1" fill="#ff0000"/>
<rect x="614" y="634" width="14" height="1" fill="#ff0000"/>
<rect x="605" y="641" width="32" height="1" fill="#ff0000"/>
<rect x="614" y="647" width="14" height="1" fill="#ff0000"/>
<rect x="621" y="647" width="1" height="23" fill="#ff0000"/>
<rect x="621" y="670" width="1" height="16" fill="#009600"/>
<rect x="621" y="686" width="1" height="15" fill="#ff0000"/>
<rect x="605" y="700" width="32" height="1" fill="#ff0000"/>
<rect x="611" y="705" width="20" height="1" fill="#ff0000"/>
<rect x="617" y="709" width="8" height="1" fill="#ff0000"/>
<rect x="543" y="591" width="16" height="1" fill="#0000ff"/>
<path d="M535.5 583.5 L552.5 600.5 M535.5 600.5 L552.5 583.5" stroke="#0000ff" stroke-width="1" fill="none" />
<rect x="433" y="591" width="110" height="1" fill="#009600"/>
<rect x="574" y="602" width="1" height="21" fill="#0000ff"/>
<path d="M566.5 614.5 L583.5 631.5 M566.5 631.5 L583.5 614.5" stroke="#0000ff" stroke-width="1" fill="none" />
<rect x="574" y="623" width="1" height="17" fill="#009600"/>
<rect x="574" y="640" width="1" height="20" fill="#ff0000"/>
<rect x="558" y="659" width="32" height="1" fill="#ff0000"/>
<rect x="568" y="666" width="13" height="1" fill="#ff0000"/>
<rect x="558" y="672" width="32" height="1" fill="#ff0000"/>
<rect x="568" y="678" width="13" height="1" fill="#ff0000"/>
<rect x="574" y="678" width="1" height="22" fill="#ff0000"/>
<rect x="574" y="700" width="1" height="18" fill="#009600"/>
<rect x="574" y="718" width="1" height="14" fill="#ff0000"/>
<rect x="558" y="731" width="32" height="1" fill="#ff0000"/>
<rect x="564" y="736" width="20" height="1" fill="#ff0000"/>
<rect x="570" y="741" width="8" height="1" fill="#ff0000"/>
<rect x="565" y="567" width="5" height="1" fill="#0000ff"/>
<rect x="564" y="614" width="7" height="1" fill="#0000ff"/>
<rect x="567" y="611" width="1" height="7" fill="#0000ff"/>
<rect x="595" y="575" width="7" height="1" fill="#0000ff"/>
<rect x="593" y="606" width="9" height="1" fill="#0000ff"/>
<rect x="597" y="602" width="1" height="9" fill="#0000ff"/>
<text x="599" y="572" font-family="'Liberation Sans', sans-serif" font-size="8" fill="#0000ff" >8</text>
<path d="M418.5 575.5 L371.5 607 L418.5 638.5 Z" stroke="#ff0000" stroke-width="1" fill="none" />
<rect x="406" y="591" width="9" height="1" fill="#ff0000"/>
<rect x="410" y="587" width="1" height="9" fill="#ff0000"/>
<rect x="406" y="622" width="9" height="1" fill="#ff0000"/>
<rect x="355" y="591" width="41" height="1" fill="#ff0000"/>
<rect x="419" y="591" width="14" height="1" fill="#ff0000"/>
<rect x="433" y="591" width="63" height="1" fill="#009600"/>
<rect x="355" y="622" width="25" height="1" fill="#ff0000"/>
<circle cx="385" cy="622.5" r="5.5" fill="none" stroke="#ff0000" stroke-width="1"/>
<rect x="419" y="622" width="14" height="1" fill="#ff0000"/>
<rect x="433" y="622" width="48" height="1" fill="#009600"/>
<rect x="480" y="622" width="1" height="79" fill="#009600"/>
<rect x="402" y="628" width="1" height="25" fill="#ff0000"/>
<rect x="402" y="653" width="1" height="17" fill="#009600"/>
<rect x="402" y="670" width="1" height="15" fill="#ff0000"/>
<rect x="387" y="684" width="32" height="1" fill="#ff0000"/>
<rect x="393" y="689" width="20" height="1" fill="#ff0000"/>
<rect x="399" y="694" width="8" height="1" fill="#ff0000"/>
<rect x="231.5" y="684.5" width="78" height="63" fill="none" stroke="#ff0000" stroke-width="1"/>
<rect x="215" y="700" width="51" height="1" fill="#ff0000"/>
<rect x="278" y="700" width="46" height="1" fill="#ff0000"/>
<rect x="324" y="700" width="157" height="1" fill="#009600"/>
<rect x="478" y="698" width="6" height="6" fill="#008c00"/>
<path d="M277.5 692.5 L253.5 708.5 L277.5 723.5 Z" stroke="#ff0000" stroke-width="1" fill="none" />
<path d="M266 705.5 L271 705.5 M268.5 705.5 L268.5 711.5 M270.5 705.5 L270.5 711.5 L272 711.5" stroke="#ff0000" stroke-width="1" fill="none" />
<rect x="281" y="695" width="7" height="1" fill="#ff0000"/>
<rect x="284" y="692" width="1" height="7" fill="#ff0000"/>
<circle cx="261" cy="716.5" r="2.8" fill="none" stroke="#ff0000" stroke-width="1"/>
<rect x="250" y="716" width="9" height="1" fill="#ff0000"/>
<rect x="270" y="719" width="1" height="21" fill="#ff0000"/>
<rect x="265" y="739" width="11" height="1" fill="#ff0000"/>
<rect x="266" y="741" width="9" height="1" fill="#ff0000"/>
<rect x="267" y="742" width="7" height="1" fill="#ff0000"/>
<rect x="268" y="743" width="5" height="1" fill="#ff0000"/>
<rect x="278" y="716" width="16" height="1" fill="#ff0000"/>
<rect x="293" y="716" width="1" height="8" fill="#ff0000"/>
<rect x="288" y="723" width="12" height="1" fill="#ff0000"/>
<rect x="291" y="725" width="6" height="1" fill="#ff0000"/>
<rect x="288" y="727" width="12" height="1" fill="#ff0000"/>
<rect x="290" y="728" width="8" height="1" fill="#ff0000"/>
<rect x="293" y="728" width="1" height="12" fill="#ff0000"/>
<rect x="288" y="739" width="12" height="1" fill="#ff0000"/>
<rect x="289" y="741" width="10" height="1" fill="#ff0000"/>
<rect x="290" y="742" width="8" height="1" fill="#ff0000"/>
<rect x="291" y="743" width="6" height="1" fill="#ff0000"/>
<rect x="480" y="700" width="1" height="17" fill="#ff0000"/>
<circle cx="480.5" cy="731.5" r="15.5" fill="none" stroke="#ff0000" stroke-width="1"/>
<rect x="477" y="724" width="7" height="1" fill="#ff0000"/>
<rect x="480" y="721" width="1" height="7" fill="#ff0000"/>
<path d="M472 739.5 L474.5 739.5 L474.5 731.5 L487 731.5 L487 739.5 L489.5 739.5" stroke="#ff0000" stroke-width="1" fill="none" />
<rect x="480" y="747" width="1" height="16" fill="#ff0000"/>
<rect x="480" y="763" width="1" height="17" fill="#009600"/>
<rect x="480" y="780" width="1" height="15" fill="#ff0000"/>
<rect x="465" y="794" width="32" height="1" fill="#ff0000"/>
<rect x="471" y="799" width="20" height="1" fill="#ff0000"/>
<rect x="477" y="803" width="8" height="1" fill="#ff0000"/>
<text x="406" y="74" font-family="'Liberation Sans', sans-serif" font-size="15.4" fill="#000000" >21</text>
<text x="406" y="90" font-family="'Liberation Sans', sans-serif" font-size="15.4" fill="#000000" >V5</text>
<text x="343" y="121" font-family="'Liberation Sans', sans-serif" font-size="15.4" fill="#000000" >S2</text>
<text x="390" y="179" font-family="'Liberation Sans', sans-serif" font-size="15.4" fill="#000000" >20u</text>
<text x="391" y="199" font-family="'Liberation Sans', sans-serif" font-size="15.4" fill="#000000" >L1-P</text>
<text x="394" y="228" font-family="'Liberation Sans', sans-serif" font-size="15.4" fill="#000000" >L1</text>
<text x="386" y="244" font-family="'Liberation Sans', sans-serif" font-size="15.4" fill="#000000" >IC=0</text>
<text x="183" y="214" font-family="'Liberation Sans', sans-serif" font-size="15.4" fill="#000000" >U6</text>
<text x="343" y="261" font-family="'Liberation Sans', sans-serif" font-size="15.4" fill="#000000" >S1</text>
<text x="510" y="246" font-family="'Liberation Sans', sans-serif" font-size="15.4" fill="#000000" >C2</text>
<text x="510" y="262" font-family="'Liberation Sans', sans-serif" font-size="15.4" fill="#000000" >100u</text>
<text x="510" y="278" font-family="'Liberation Sans', sans-serif" font-size="15.4" fill="#000000" >RLK=1Meg</text>
<text x="510" y="294" font-family="'Liberation Sans', sans-serif" font-size="15.4" fill="#000000" >ESR=10m</text>
<text x="565" y="230" font-family="'Liberation Sans', sans-serif" font-size="15.4" fill="#000000" >R2</text>
<text x="565" y="246" font-family="'Liberation Sans', sans-serif" font-size="15.4" fill="#000000" >1.666</text>
<text x="628" y="229" font-family="'Liberation Sans', sans-serif" font-size="15.4" fill="#000000" >R3</text>
<text x="628" y="245" font-family="'Liberation Sans', sans-serif" font-size="15.4" fill="#000000" >386</text>
<text x="675" y="229" font-family="'Liberation Sans', sans-serif" font-size="15.4" fill="#000000" >R4</text>
<text x="675" y="245" font-family="'Liberation Sans', sans-serif" font-size="15.4" fill="#000000" >12.4k</text>
<text x="686" y="199" font-family="'Liberation Sans', sans-serif" font-size="15.4" fill="#000000" >L1-N</text>
<text x="635" y="291" font-family="'Liberation Sans', sans-serif" font-size="15.4" fill="#000000" >2.2n</text>
<text x="635" y="308" font-family="'Liberation Sans', sans-serif" font-size="15.4" fill="#000000" >C3</text>
<text x="675" y="338" font-family="'Liberation Sans', sans-serif" font-size="15.4" fill="#000000" >R5</text>
<text x="675" y="354" font-family="'Liberation Sans', sans-serif" font-size="15.4" fill="#000000" >3.915k</text>
<text x="574" y="430" font-family="'Liberation Sans', sans-serif" font-size="15.4" fill="#000000" >125p</text>
<text x="580" y="478" font-family="'Liberation Sans', sans-serif" font-size="15.4" fill="#000000" >C4</text>
<text x="529" y="477" font-family="'Liberation Sans', sans-serif" font-size="15.4" fill="#000000" >1.7n</text>
<text x="533" y="525" font-family="'Liberation Sans', sans-serif" font-size="15.4" fill="#000000" >C1</text>
<text x="632" y="490" font-family="'Liberation Sans', sans-serif" font-size="15.4" fill="#000000" >31k</text>
<text x="635" y="519" font-family="'Liberation Sans', sans-serif" font-size="15.4" fill="#000000" >R1</text>
<text x="521" y="573" font-family="'Liberation Sans', sans-serif" font-size="15.4" fill="#000000" >X2</text>
<text x="385" y="572" font-family="'Liberation Sans', sans-serif" font-size="15.4" fill="#000000" >U1</text>
<text x="640" y="620" font-family="'Liberation Sans', sans-serif" font-size="15.4" fill="#000000" >1.2</text>
<text x="640" y="636" font-family="'Liberation Sans', sans-serif" font-size="15.4" fill="#000000" >V7</text>
<text x="593" y="651" font-family="'Liberation Sans', sans-serif" font-size="15.4" fill="#000000" >5</text>
<text x="593" y="667" font-family="'Liberation Sans', sans-serif" font-size="15.4" fill="#000000" >V8</text>
<text x="228" y="682" font-family="'Liberation Sans', sans-serif" font-size="15.4" fill="#000000" >POP Trigger</text>
<text x="499" y="713" font-family="'Liberation Sans', sans-serif" font-size="15.4" fill="#000000" >V9</text>
<rect x="948" y="0" width="1" height="872" fill="#8a8a8a"/>
<rect x="949" y="0" width="1" height="872" fill="#fafafa"/>
<rect x="954" y="0" width="1" height="872" fill="#8a8a8a"/>
<rect x="955" y="0" width="1" height="872" fill="#fafafa"/>
<rect x="965" y="4" width="668" height="777" fill="#828790"/>
<rect x="966" y="5" width="666" height="775" fill="#ffffff"/>
<rect x="976" y="21" width="1" height="150" fill="#000000"/>
<rect x="982" y="21" width="1" height="150" fill="#000000"/>
<rect x="1134" y="21" width="1" height="149" fill="#c0c0c0"/>
<rect x="1222" y="21" width="1" height="149" fill="#c0c0c0"/>
<rect x="1310" y="21" width="1" height="149" fill="#c0c0c0"/>
<rect x="1398" y="21" width="1" height="149" fill="#c0c0c0"/>
<rect x="1486" y="21" width="1" height="149" fill="#c0c0c0"/>
<rect x="1574" y="21" width="1" height="149" fill="#c0c0c0"/>
<rect x="1090" y="20" width="1" height="150" fill="#000000"/>
<rect x="1178" y="20" width="1" height="150" fill="#000000"/>
<rect x="1266" y="20" width="1" height="150" fill="#000000"/>
<rect x="1354" y="20" width="1" height="150" fill="#000000"/>
<rect x="1442" y="20" width="1" height="150" fill="#000000"/>
<rect x="1530" y="20" width="1" height="150" fill="#000000"/>
<rect x="1057" y="35" width="560" height="1" fill="#000000"/>
<rect x="1057" y="50" width="560" height="1" fill="#000000"/>
<rect x="1057" y="65" width="560" height="1" fill="#000000"/>
<rect x="1057" y="80" width="560" height="1" fill="#000000"/>
<rect x="1057" y="95" width="560" height="1" fill="#000000"/>
<rect x="1057" y="110" width="560" height="1" fill="#000000"/>
<rect x="1057" y="125" width="560" height="1" fill="#000000"/>
<rect x="1057" y="140" width="560" height="1" fill="#000000"/>
<rect x="1057" y="155" width="560" height="1" fill="#000000"/>
<rect x="1057" y="169" width="560" height="1" fill="#000000"/>
<rect x="1056" y="19" width="2" height="151" fill="#000000"/>
<text x="1048" y="57" text-anchor="end" font-family="'Liberation Mono', monospace" font-size="18" textLength="27" lengthAdjust="spacingAndGlyphs" fill="#000">4.0</text>
<text x="1048" y="87" text-anchor="end" font-family="'Liberation Mono', monospace" font-size="18" textLength="27" lengthAdjust="spacingAndGlyphs" fill="#000">3.0</text>
<text x="1048" y="117" text-anchor="end" font-family="'Liberation Mono', monospace" font-size="18" textLength="27" lengthAdjust="spacingAndGlyphs" fill="#000">2.0</text>
<text x="1048" y="147" text-anchor="end" font-family="'Liberation Mono', monospace" font-size="18" textLength="27" lengthAdjust="spacingAndGlyphs" fill="#000">1.0</text>
<text x="1048" y="176" text-anchor="end" font-family="'Liberation Mono', monospace" font-size="18" textLength="27" lengthAdjust="spacingAndGlyphs" fill="#000">0.0</text>
<text x="0" y="0" transform="translate(1002,90) rotate(-90)" text-anchor="middle" font-family="'Liberation Mono', monospace" font-size="18" textLength="90" lengthAdjust="spacingAndGlyphs" fill="#000">U1-OUT / V</text>
<rect x="1134" y="189" width="1" height="185" fill="#c0c0c0"/>
<rect x="1222" y="189" width="1" height="185" fill="#c0c0c0"/>
<rect x="1310" y="189" width="1" height="185" fill="#c0c0c0"/>
<rect x="1398" y="189" width="1" height="185" fill="#c0c0c0"/>
<rect x="1486" y="189" width="1" height="185" fill="#c0c0c0"/>
<rect x="1574" y="189" width="1" height="185" fill="#c0c0c0"/>
<rect x="1090" y="188" width="1" height="186" fill="#000000"/>
<rect x="1178" y="188" width="1" height="186" fill="#000000"/>
<rect x="1266" y="188" width="1" height="186" fill="#000000"/>
<rect x="1354" y="188" width="1" height="186" fill="#000000"/>
<rect x="1442" y="188" width="1" height="186" fill="#000000"/>
<rect x="1530" y="188" width="1" height="186" fill="#000000"/>
<rect x="1057" y="188" width="560" height="1" fill="#000000"/>
<rect x="1057" y="225" width="560" height="1" fill="#000000"/>
<rect x="1057" y="262" width="560" height="1" fill="#000000"/>
<rect x="1057" y="299" width="560" height="1" fill="#000000"/>
<rect x="1057" y="336" width="560" height="1" fill="#000000"/>
<rect x="1057" y="373" width="560" height="1" fill="#000000"/>
<rect x="1056" y="187" width="2" height="187" fill="#000000"/>
<text x="1048" y="195" text-anchor="end" font-family="'Liberation Mono', monospace" font-size="18" textLength="9" lengthAdjust="spacingAndGlyphs" fill="#000">5</text>
<text x="1048" y="232" text-anchor="end" font-family="'Liberation Mono', monospace" font-size="18" textLength="9" lengthAdjust="spacingAndGlyphs" fill="#000">4</text>
<text x="1048" y="269" text-anchor="end" font-family="'Liberation Mono', monospace" font-size="18" textLength="9" lengthAdjust="spacingAndGlyphs" fill="#000">3</text>
<text x="1048" y="306" text-anchor="end" font-family="'Liberation Mono', monospace" font-size="18" textLength="9" lengthAdjust="spacingAndGlyphs" fill="#000">2</text>
<text x="1048" y="343" text-anchor="end" font-family="'Liberation Mono', monospace" font-size="18" textLength="9" lengthAdjust="spacingAndGlyphs" fill="#000">1</text>
<text x="1048" y="380" text-anchor="end" font-family="'Liberation Mono', monospace" font-size="18" textLength="9" lengthAdjust="spacingAndGlyphs" fill="#000">0</text>
<text x="0" y="0" transform="translate(1020,277) rotate(-90)" text-anchor="middle" font-family="'Liberation Mono', monospace" font-size="18" textLength="126" lengthAdjust="spacingAndGlyphs" fill="#000">U6-OUT_BAR / V</text>
<rect x="1134" y="392" width="1" height="159" fill="#c0c0c0"/>
<rect x="1222" y="392" width="1" height="159" fill="#c0c0c0"/>
<rect x="1310" y="392" width="1" height="159" fill="#c0c0c0"/>
<rect x="1398" y="392" width="1" height="159" fill="#c0c0c0"/>
<rect x="1486" y="392" width="1" height="159" fill="#c0c0c0"/>
<rect x="1574" y="392" width="1" height="159" fill="#c0c0c0"/>
<rect x="1090" y="391" width="1" height="160" fill="#000000"/>
<rect x="1178" y="391" width="1" height="160" fill="#000000"/>
<rect x="1266" y="391" width="1" height="160" fill="#000000"/>
<rect x="1354" y="391" width="1" height="160" fill="#000000"/>
<rect x="1442" y="391" width="1" height="160" fill="#000000"/>
<rect x="1530" y="391" width="1" height="160" fill="#000000"/>
<rect x="1057" y="413" width="560" height="1" fill="#000000"/>
<rect x="1057" y="443" width="560" height="1" fill="#000000"/>
<rect x="1057" y="472" width="560" height="1" fill="#000000"/>
<rect x="1057" y="502" width="560" height="1" fill="#000000"/>
<rect x="1057" y="532" width="560" height="1" fill="#000000"/>
<rect x="1056" y="390" width="2" height="161" fill="#000000"/>
<text x="1048" y="420" text-anchor="end" font-family="'Liberation Mono', monospace" font-size="18" textLength="27" lengthAdjust="spacingAndGlyphs" fill="#000">400</text>
<text x="1048" y="450" text-anchor="end" font-family="'Liberation Mono', monospace" font-size="18" textLength="27" lengthAdjust="spacingAndGlyphs" fill="#000">200</text>
<text x="1048" y="479" text-anchor="end" font-family="'Liberation Mono', monospace" font-size="18" textLength="9" lengthAdjust="spacingAndGlyphs" fill="#000">0</text>
<text x="1048" y="509" text-anchor="end" font-family="'Liberation Mono', monospace" font-size="18" textLength="36" lengthAdjust="spacingAndGlyphs" fill="#000">-200</text>
<text x="1048" y="539" text-anchor="end" font-family="'Liberation Mono', monospace" font-size="18" textLength="36" lengthAdjust="spacingAndGlyphs" fill="#000">-400</text>
<text x="0" y="0" transform="translate(993,465) rotate(-90)" text-anchor="middle" font-family="'Liberation Mono', monospace" font-size="18" textLength="99" lengthAdjust="spacingAndGlyphs" fill="#000">I(L1-P) / A</text>
<rect x="1134" y="569" width="1" height="134" fill="#c0c0c0"/>
<rect x="1222" y="569" width="1" height="134" fill="#c0c0c0"/>
<rect x="1310" y="569" width="1" height="134" fill="#c0c0c0"/>
<rect x="1398" y="569" width="1" height="134" fill="#c0c0c0"/>
<rect x="1486" y="569" width="1" height="134" fill="#c0c0c0"/>
<rect x="1574" y="569" width="1" height="134" fill="#c0c0c0"/>
<rect x="1090" y="568" width="1" height="135" fill="#000000"/>
<rect x="1178" y="568" width="1" height="135" fill="#000000"/>
<rect x="1266" y="568" width="1" height="135" fill="#000000"/>
<rect x="1354" y="568" width="1" height="135" fill="#000000"/>
<rect x="1442" y="568" width="1" height="135" fill="#000000"/>
<rect x="1530" y="568" width="1" height="135" fill="#000000"/>
<rect x="1057" y="579" width="560" height="1" fill="#000000"/>
<rect x="1057" y="600" width="560" height="1" fill="#000000"/>
<rect x="1057" y="620" width="560" height="1" fill="#000000"/>
<rect x="1057" y="641" width="560" height="1" fill="#000000"/>
<rect x="1057" y="661" width="560" height="1" fill="#000000"/>
<rect x="1057" y="682" width="560" height="1" fill="#000000"/>
<rect x="1057" y="702" width="560" height="1" fill="#000000"/>
<rect x="1056" y="567" width="2" height="136" fill="#000000"/>
<text x="1048" y="586" text-anchor="end" font-family="'Liberation Mono', monospace" font-size="18" textLength="18" lengthAdjust="spacingAndGlyphs" fill="#000">16</text>
<text x="1048" y="607" text-anchor="end" font-family="'Liberation Mono', monospace" font-size="18" textLength="18" lengthAdjust="spacingAndGlyphs" fill="#000">14</text>
<text x="1048" y="627" text-anchor="end" font-family="'Liberation Mono', monospace" font-size="18" textLength="18" lengthAdjust="spacingAndGlyphs" fill="#000">12</text>
<text x="1048" y="648" text-anchor="end" font-family="'Liberation Mono', monospace" font-size="18" textLength="18" lengthAdjust="spacingAndGlyphs" fill="#000">10</text>
<text x="1048" y="668" text-anchor="end" font-family="'Liberation Mono', monospace" font-size="18" textLength="9" lengthAdjust="spacingAndGlyphs" fill="#000">8</text>
<text x="1048" y="689" text-anchor="end" font-family="'Liberation Mono', monospace" font-size="18" textLength="9" lengthAdjust="spacingAndGlyphs" fill="#000">6</text>
<text x="1048" y="709" text-anchor="end" font-family="'Liberation Mono', monospace" font-size="18" textLength="9" lengthAdjust="spacingAndGlyphs" fill="#000">4</text>
<text x="0" y="0" transform="translate(1011,632) rotate(-90)" text-anchor="middle" font-family="'Liberation Mono', monospace" font-size="18" textLength="72" lengthAdjust="spacingAndGlyphs" fill="#000">L1-N / V</text>
<rect x="1048" y="522" width="18" height="1" fill="#000000"/>
<text x="1091" y="718" text-anchor="middle" font-family="'Liberation Mono', monospace" font-size="18" textLength="18" lengthAdjust="spacingAndGlyphs" fill="#000">32</text>
<text x="1179" y="718" text-anchor="middle" font-family="'Liberation Mono', monospace" font-size="18" textLength="18" lengthAdjust="spacingAndGlyphs" fill="#000">34</text>
<text x="1267" y="718" text-anchor="middle" font-family="'Liberation Mono', monospace" font-size="18" textLength="18" lengthAdjust="spacingAndGlyphs" fill="#000">36</text>
<text x="1355" y="718" text-anchor="middle" font-family="'Liberation Mono', monospace" font-size="18" textLength="18" lengthAdjust="spacingAndGlyphs" fill="#000">38</text>
<text x="1443" y="718" text-anchor="middle" font-family="'Liberation Mono', monospace" font-size="18" textLength="18" lengthAdjust="spacingAndGlyphs" fill="#000">40</text>
<text x="1531" y="718" text-anchor="middle" font-family="'Liberation Mono', monospace" font-size="18" textLength="18" lengthAdjust="spacingAndGlyphs" fill="#000">42</text>
<text x="1057" y="756" font-family="'Liberation Mono', monospace" font-size="18" textLength="90" lengthAdjust="spacingAndGlyphs" fill="#000">time/uSecs</text>
<text x="1616" y="756" text-anchor="end" font-family="'Liberation Mono', monospace" font-size="18" textLength="90" lengthAdjust="spacingAndGlyphs" fill="#000">2uSecs/div</text>
<path d="M1057.5 170.0 L1112.0 170.0 L1112.0 21.0 L1222.0 21.0 L1222.0 170.0 L1332.0 170.0 L1332.0 21.0 L1442.0 21.0 L1442.0 170.0 L1552.0 170.0 L1552.0 21.0 L1615.5 21.0" stroke="#939428" stroke-width="2" fill="none" stroke-linejoin="miter"/>
<path d="M1057.5 189.0 L1112.0 189.0 L1112.0 374.0 L1222.0 374.0 L1222.0 189.0 L1332.0 189.0 L1332.0 374.0 L1442.0 374.0 L1442.0 189.0 L1552.0 189.0 L1552.0 374.0 L1615.5 374.0" stroke="#0000ff" stroke-width="2" fill="none" stroke-linejoin="miter"/>
<path d="M1057.5 522.2 L1060.7 520.9 L1064.3 519.5 L1068.0 518.1 L1071.7 516.7 L1075.3 515.4 L1079.0 514.1 L1082.7 512.9 L1086.3 511.7 L1090.0 510.5 L1093.7 509.4 L1097.3 508.2 L1101.0 507.2 L1104.7 506.1 L1108.3 505.1 L1112.0 504.1 L1112.0 393.0 L1115.7 395.3 L1119.3 397.6 L1123.0 399.8 L1126.7 402.0 L1130.3 404.0 L1134.0 406.1 L1137.7 408.0 L1141.3 409.9 L1145.0 411.7 L1148.7 413.5 L1152.3 415.2 L1156.0 416.9 L1159.7 418.5 L1163.3 420.1 L1167.0 421.6 L1170.7 423.1 L1174.3 424.5 L1178.0 425.9 L1181.7 427.3 L1185.3 428.6 L1189.0 429.8 L1192.7 431.1 L1196.3 432.2 L1200.0 433.4 L1203.7 434.5 L1207.3 435.6 L1211.0 436.6 L1214.7 437.7 L1218.3 438.6 L1222.0 439.6 L1222.0 550.6 L1225.7 548.3 L1229.3 546.1 L1233.0 544.0 L1236.7 541.9 L1240.3 539.8 L1244.0 537.9 L1247.7 535.9 L1251.3 534.1 L1255.0 532.3 L1258.7 530.5 L1262.3 528.8 L1266.0 527.1 L1269.7 525.5 L1273.3 524.0 L1277.0 522.4 L1280.7 520.9 L1284.3 519.5 L1288.0 518.1 L1291.7 516.7 L1295.3 515.4 L1299.0 514.1 L1302.7 512.9 L1306.3 511.7 L1310.0 510.5 L1313.7 509.4 L1317.3 508.2 L1321.0 507.2 L1324.7 506.1 L1328.3 505.1 L1332.0 504.1 L1332.0 393.0 L1335.7 395.3 L1339.3 397.6 L1343.0 399.8 L1346.7 402.0 L1350.3 404.0 L1354.0 406.1 L1357.7 408.0 L1361.3 409.9 L1365.0 411.7 L1368.7 413.5 L1372.3 415.2 L1376.0 416.9 L1379.7 418.5 L1383.3 420.1 L1387.0 421.6 L1390.7 423.1 L1394.3 424.5 L1398.0 425.9 L1401.7 427.3 L1405.3 428.6 L1409.0 429.8 L1412.7 431.1 L1416.3 432.2 L1420.0 433.4 L1423.7 434.5 L1427.3 435.6 L1431.0 436.6 L1434.7 437.7 L1438.3 438.6 L1442.0 439.6 L1442.0 550.6 L1445.7 548.3 L1449.3 546.1 L1453.0 544.0 L1456.7 541.9 L1460.3 539.8 L1464.0 537.9 L1467.7 535.9 L1471.3 534.1 L1475.0 532.3 L1478.7 530.5 L1482.3 528.8 L1486.0 527.1 L1489.7 525.5 L1493.3 524.0 L1497.0 522.4 L1500.7 520.9 L1504.3 519.5 L1508.0 518.1 L1511.7 516.7 L1515.3 515.4 L1519.0 514.1 L1522.7 512.9 L1526.3 511.7 L1530.0 510.5 L1533.7 509.4 L1537.3 508.2 L1541.0 507.2 L1544.7 506.1 L1548.3 505.1 L1552.0 504.1 L1552.0 393.0 L1555.7 395.3 L1559.3 397.6 L1563.0 399.8 L1566.7 402.0 L1570.3 404.0 L1574.0 406.1 L1577.7 408.0 L1581.3 409.9 L1585.0 411.7 L1588.7 413.5 L1592.3 415.2 L1596.0 416.9 L1599.7 418.5 L1603.3 420.1 L1607.0 421.6 L1610.7 423.1 L1614.3 424.5 L1615.5 425.0" stroke="#339933" stroke-width="2" fill="none" />
<path d="M1057.5 683.1 L1060.7 684.7 L1064.3 686.4 L1068.0 688.0 L1071.7 689.6 L1075.3 691.1 L1079.0 692.5 L1082.7 693.9 L1086.3 695.3 L1090.0 696.6 L1093.7 697.8 L1097.3 699.0 L1101.0 700.2 L1104.7 701.3 L1108.3 702.4 L1112.0 703.4 L1112.0 626.8 L1115.7 623.8 L1119.3 620.9 L1123.0 618.1 L1126.7 615.3 L1130.3 612.7 L1134.0 610.2 L1137.7 607.7 L1141.3 605.4 L1145.0 603.1 L1148.7 600.9 L1152.3 598.8 L1156.0 596.7 L1159.7 594.8 L1163.3 592.9 L1167.0 591.0 L1170.7 589.3 L1174.3 587.5 L1178.0 585.9 L1181.7 584.3 L1185.3 582.7 L1189.0 581.3 L1192.7 579.8 L1196.3 578.4 L1200.0 577.1 L1203.7 575.8 L1207.3 574.6 L1211.0 573.4 L1214.7 572.2 L1218.3 571.1 L1222.0 570.0 L1222.0 646.6 L1225.7 649.7 L1229.3 652.7 L1233.0 655.6 L1236.7 658.4 L1240.3 661.1 L1244.0 663.6 L1247.7 666.1 L1251.3 668.5 L1255.0 670.8 L1258.7 673.0 L1262.3 675.1 L1266.0 677.2 L1269.7 679.2 L1273.3 681.1 L1277.0 682.9 L1280.7 684.7 L1284.3 686.4 L1288.0 688.0 L1291.7 689.6 L1295.3 691.1 L1299.0 692.5 L1302.7 693.9 L1306.3 695.3 L1310.0 696.6 L1313.7 697.8 L1317.3 699.0 L1321.0 700.2 L1324.7 701.3 L1328.3 702.4 L1332.0 703.4 L1332.0 626.8 L1335.7 623.8 L1339.3 620.9 L1343.0 618.1 L1346.7 615.3 L1350.3 612.7 L1354.0 610.2 L1357.7 607.7 L1361.3 605.4 L1365.0 603.1 L1368.7 600.9 L1372.3 598.8 L1376.0 596.7 L1379.7 594.8 L1383.3 592.9 L1387.0 591.0 L1390.7 589.3 L1394.3 587.5 L1398.0 585.9 L1401.7 584.3 L1405.3 582.7 L1409.0 581.3 L1412.7 579.8 L1416.3 578.4 L1420.0 577.1 L1423.7 575.8 L1427.3 574.6 L1431.0 573.4 L1434.7 572.2 L1438.3 571.1 L1442.0 570.0 L1442.0 646.6 L1445.7 649.7 L1449.3 652.7 L1453.0 655.6 L1456.7 658.4 L1460.3 661.1 L1464.0 663.6 L1467.7 666.1 L1471.3 668.5 L1475.0 670.8 L1478.7 673.0 L1482.3 675.1 L1486.0 677.2 L1489.7 679.2 L1493.3 681.1 L1497.0 682.9 L1500.7 684.7 L1504.3 686.4 L1508.0 688.0 L1511.7 689.6 L1515.3 691.1 L1519.0 692.5 L1522.7 693.9 L1526.3 695.3 L1530.0 696.6 L1533.7 697.8 L1537.3 699.0 L1541.0 700.2 L1544.7 701.3 L1548.3 702.4 L1552.0 703.4 L1552.0 626.8 L1555.7 623.8 L1559.3 620.9 L1563.0 618.1 L1566.7 615.3 L1570.3 612.7 L1574.0 610.2 L1577.7 607.7 L1581.3 605.4 L1585.0 603.1 L1588.7 600.9 L1592.3 598.8 L1596.0 596.7 L1599.7 594.8 L1603.3 592.9 L1607.0 591.0 L1610.7 589.3 L1614.3 587.5 L1615.5 587.0" stroke="#ff3333" stroke-width="2" fill="none" />
<rect x="965" y="787" width="331" height="90" fill="#828790"/>
<rect x="966" y="788" width="329" height="90" fill="#ffffff"/>
<rect x="1113" y="788" width="1" height="29" fill="#e5e5e5"/>
<text x="971" y="809" font-family="'Liberation Sans', sans-serif" font-size="16" fill="#000000" >Label</text>
<text x="1118.5" y="809" font-family="'Liberation Sans', sans-serif" font-size="16" fill="#000000" >Legend</text>
<rect x="1275" y="788" width="20" height="90" fill="#f0f0f0"/>
<path d="M1280 801.5 L1284.5 796.5 L1289 801.5" stroke="#505050" stroke-width="2" fill="none" />
<rect x="1275" y="809" width="19" height="22" fill="#cdcdcd"/>
<path d="M1280 859.5 L1284.5 864.5 L1289 859.5" stroke="#505050" stroke-width="2" fill="none" />
<rect x="1273" y="788" width="1" height="29" fill="#e5e5e5"/>
<rect x="994.5" y="820.5" width="15" height="15" fill="#fff" stroke="#333" stroke-width="1"/>
<text x="1015.5" y="834" font-family="'Liberation Sans', sans-serif" font-size="16" fill="#000000" >U1-OUT</text>
<rect x="1114" y="828" width="51" height="1" fill="#939428"/>
<rect x="994.5" y="842.5" width="15" height="15" fill="#fff" stroke="#333" stroke-width="1"/>
<text x="1015.5" y="856" font-family="'Liberation Sans', sans-serif" font-size="16" fill="#000000" textLength="97" lengthAdjust="spacingAndGlyphs">U6-OUT_BAR</text>
<rect x="1114" y="850" width="51" height="1" fill="#0000ff"/>
<rect x="991" y="861" width="283" height="11" fill="#d9d9d9"/>
<rect x="994.5" y="864.5" width="15" height="15" fill="#fff" stroke="#333" stroke-width="1"/>
<path d="M997 870 L1000 873 L1006 867" stroke="#333" stroke-width="1.2" fill="none" />
<text x="1015.5" y="878" font-family="'Liberation Sans', sans-serif" font-size="16" fill="#000000" >I(L1-P)</text>
<rect x="1114" y="861" width="50" height="11" fill="#ffffff"/>
<rect x="1302" y="787" width="331" height="90" fill="#828790"/>
<rect x="1303" y="788" width="329" height="90" fill="#ffffff"/>
<rect x="1427" y="788" width="1" height="29" fill="#e5e5e5"/>
<rect x="1552" y="788" width="1" height="29" fill="#e5e5e5"/>
<text x="1308.5" y="809" font-family="'Liberation Sans', sans-serif" font-size="16" fill="#000000" >Curve label</text>
<text x="1433" y="809" font-family="'Liberation Sans', sans-serif" font-size="16" fill="#000000" >Name</text>
<text x="1557.5" y="809" font-family="'Liberation Sans', sans-serif" font-size="16" fill="#000000" >Value</text>
<rect x="1303" y="853" width="329" height="20" fill="#f0f0f0"/>
<rect x="1324" y="853" width="251" height="20" fill="#cdcdcd"/>
<path d="M1316 858 L1310 862.5 L1316 867" stroke="#4a4a4a" stroke-width="2" fill="none" />
<path d="M1618.5 858 L1624 862.5 L1618.5 867" stroke="#4a4a4a" stroke-width="2" fill="none" />
<rect x="1643" y="0" width="1" height="872" fill="#888888"/>
<rect x="1642" y="0" width="1" height="872" fill="#fafafa"/>
<rect x="117" y="860" width="1" height="12" fill="#d5d5d5"/>
<rect x="235" y="860" width="1" height="12" fill="#d5d5d5"/>
<rect x="352" y="860" width="1" height="12" fill="#d5d5d5"/>
<rect x="470" y="860" width="1" height="12" fill="#d5d5d5"/>
<rect x="587" y="860" width="1" height="12" fill="#d5d5d5"/>
<rect x="704" y="860" width="1" height="12" fill="#d5d5d5"/>
<rect x="822" y="860" width="1" height="12" fill="#d5d5d5"/>
<text x="5" y="876" font-family="'Liberation Mono', monospace" font-size="13.33" font-weight="bold" fill="#000">Select</text>
<text x="121" y="876" font-family="'Liberation Mono', monospace" font-size="13.33" font-weight="bold" fill="#000">X=1</text>
<text x="239" y="876" font-family="'Liberation Mono', monospace" font-size="13.33" font-weight="bold" fill="#000">Modified</text>
<text x="709" y="876" font-family="'Liberation Mono', monospace" font-size="13.33" font-weight="bold" fill="#000">SIMPLIS</text>
<text x="786.5" y="865" font-family="Liberation Sans, sans-serif" font-weight="bold" font-size="16.5" fill="#003232" stroke="#003232" stroke-width="0.5" textLength="71" lengthAdjust="spacingAndGlyphs">bbs.eetop.cn</text>
</svg>
</body></html>
